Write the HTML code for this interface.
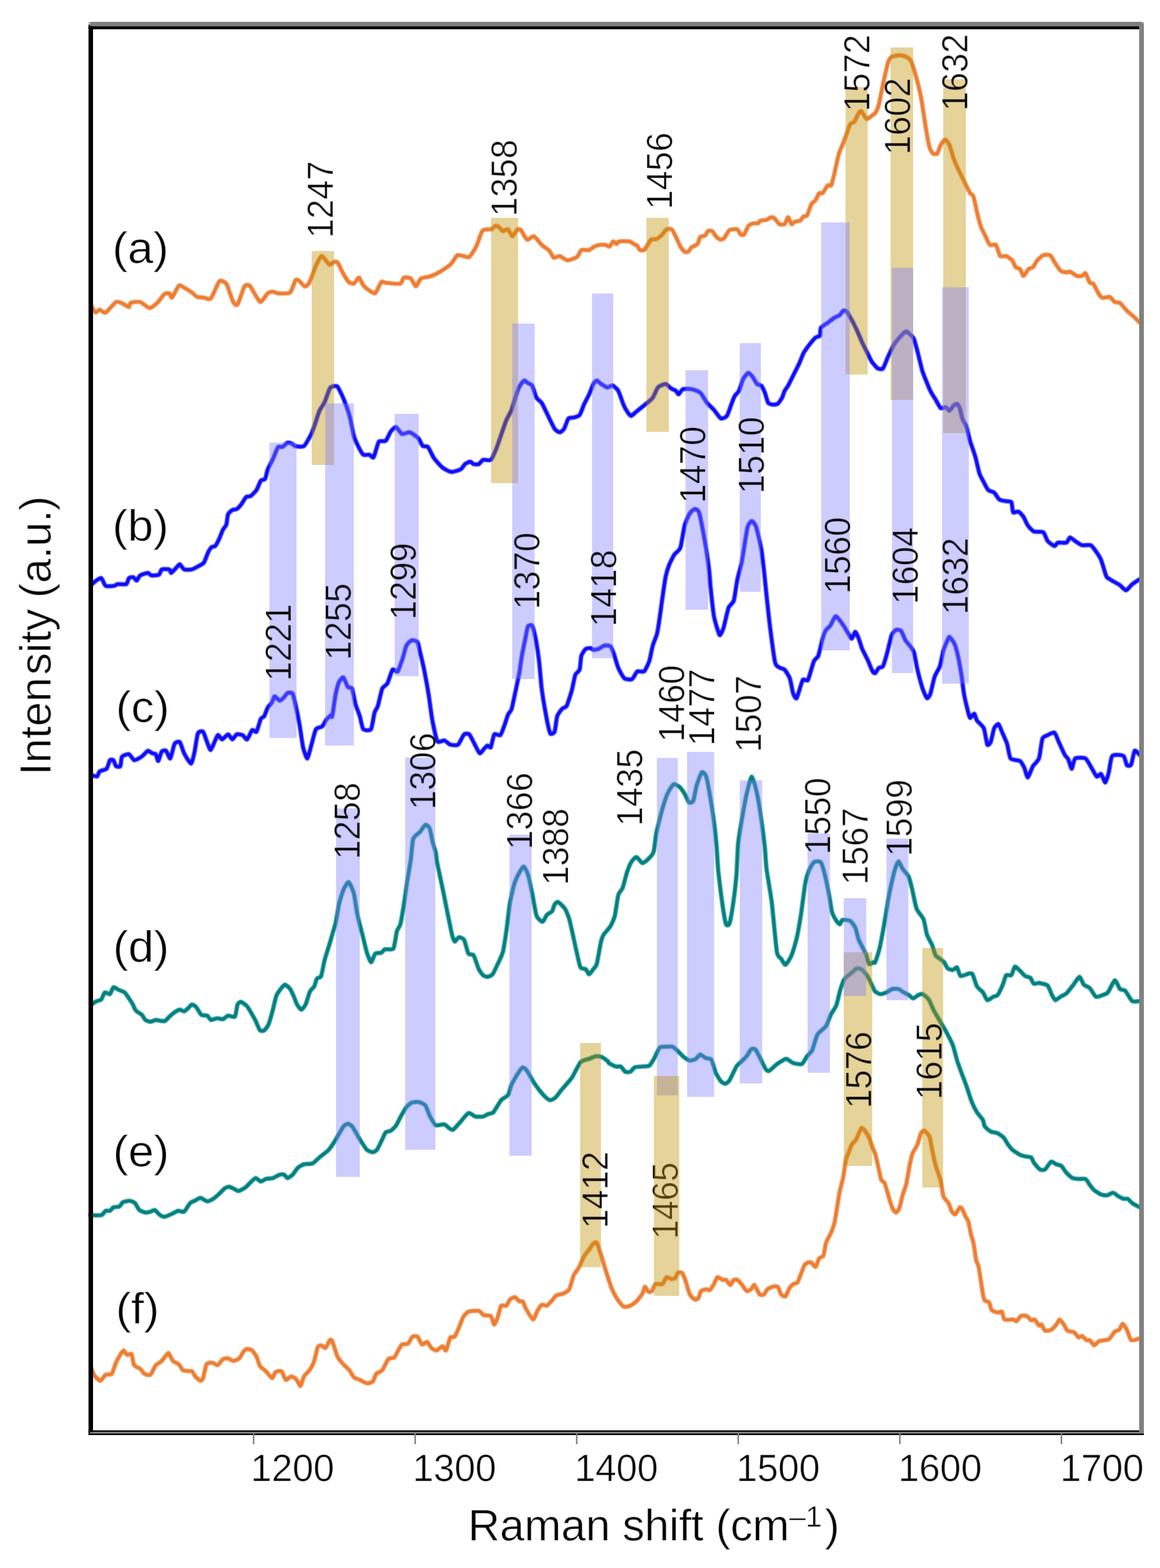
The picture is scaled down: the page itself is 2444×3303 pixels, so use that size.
<!DOCTYPE html>
<html lang="en"><head><meta charset="utf-8"><title>Raman spectra</title>
<style>html,body{margin:0;padding:0;background:#fff}body{width:2444px;height:3303px;overflow:hidden}svg{display:block}text{font-family:"Liberation Sans", Arial, Helvetica, sans-serif;fill:#000;font-kerning:none;text-rendering:geometricPrecision;filter:url(#thin)}</style></head><body>
<svg width="2444" height="3303" viewBox="0 0 2444 3303">
<rect width="2444" height="3303" fill="#ffffff"/>
<defs><filter id="thin" x="-5%" y="-5%" width="110%" height="110%"><feMorphology in="SourceGraphic" operator="erode" radius="1" result="e"/><feComposite in="SourceGraphic" in2="e" operator="arithmetic" k1="0" k2="0.5" k3="0.5" k4="0"/></filter><filter id="soft" filterUnits="userSpaceOnUse" x="0" y="0" width="2444" height="3303"><feGaussianBlur stdDeviation="1.1"/></filter></defs>
<g fill="none" stroke-width="8.7" stroke-linejoin="round" stroke-linecap="butt" filter="url(#soft)">
<path stroke="#ED7D31" d="M190.0 643.30C190.2 643.30 190.7 641.84 191.8 643.30C192.9 644.76 199.0 656.99 200.8 657.90C202.6 658.81 207.7 652.33 209.9 652.40C212.1 652.47 219.2 660.23 222.6 658.60C226.0 656.97 240.8 637.99 244.4 636.10C248.0 634.21 256.3 638.61 259.0 639.70C261.7 640.79 270.1 647.18 271.7 647.00C273.3 646.82 272.9 638.99 275.3 637.90C277.7 636.81 291.3 635.01 295.3 636.10C299.3 637.19 311.7 648.62 315.3 648.80C318.9 648.98 328.5 640.81 331.6 637.90C334.7 634.99 343.6 621.70 346.1 619.70C348.6 617.70 355.4 617.17 357.0 617.90C358.6 618.63 360.5 628.63 362.5 627.00C364.5 625.37 374.3 603.60 377.0 601.60C379.7 599.60 387.0 605.55 389.7 607.00C392.4 608.45 401.7 614.28 404.2 616.10C406.7 617.92 412.6 624.11 415.1 625.20C417.7 626.29 426.8 626.64 429.7 627.00C432.6 627.36 440.9 632.25 444.2 628.80C447.5 625.35 459.0 595.59 462.3 592.50C465.6 589.41 474.0 593.54 476.9 597.90C479.8 602.26 489.0 631.74 491.4 636.10C493.8 640.46 498.1 644.77 500.5 641.50C502.9 638.23 512.5 607.39 515.0 603.40C517.5 599.41 523.4 599.42 525.9 601.60C528.4 603.78 538.0 621.75 540.4 625.20C542.8 628.65 547.1 636.83 549.5 636.10C551.9 635.37 561.5 620.08 564.0 617.90C566.5 615.72 572.7 614.30 574.9 614.30C577.1 614.30 582.2 617.72 585.8 617.90C589.4 618.08 607.7 618.82 611.3 616.10C614.9 613.38 620.4 593.24 622.2 590.70C624.0 588.16 627.4 589.43 629.4 590.70C631.4 591.97 639.9 602.86 642.1 603.40C644.3 603.94 648.8 600.46 651.2 596.10C653.6 591.74 663.2 565.43 665.7 559.80C668.2 554.17 674.8 541.25 676.6 539.80C678.4 538.35 682.1 543.48 683.9 545.30C685.7 547.12 693.0 557.28 694.8 558.00C696.6 558.72 700.5 553.05 702.1 552.50C703.7 551.95 709.1 550.36 711.1 552.50C713.1 554.64 719.5 569.76 721.8 573.90C724.1 578.04 732.1 591.54 734.5 593.90C736.9 596.26 743.2 598.41 745.4 597.50C747.6 596.59 754.3 584.44 756.3 584.80C758.3 585.16 763.2 598.38 765.4 601.10C767.6 603.82 775.6 610.36 778.1 612.00C780.6 613.64 788.3 619.31 790.8 617.50C793.3 615.69 801.3 596.08 803.5 593.90C805.7 591.72 808.6 595.34 812.6 595.70C816.6 596.06 839.7 598.59 843.5 597.50C847.3 596.41 848.5 585.89 850.7 584.80C852.9 583.71 862.8 584.78 865.3 586.60C867.8 588.42 874.0 603.00 876.2 603.00C878.4 603.00 884.3 588.60 887.0 586.60C889.7 584.60 900.3 583.91 903.4 583.00C906.5 582.09 914.6 579.14 917.9 577.50C921.2 575.86 932.8 568.78 936.1 566.60C939.4 564.42 947.9 558.60 950.6 555.70C953.3 552.80 960.8 539.23 963.3 537.60C965.8 535.97 973.5 539.04 976.0 539.40C978.5 539.76 986.0 543.20 988.7 541.20C991.4 539.20 1000.6 524.85 1003.3 519.40C1006.0 513.95 1013.6 490.33 1016.0 486.70C1018.4 483.07 1024.9 483.46 1026.9 483.10C1028.9 482.74 1034.4 483.83 1036.0 483.10C1037.6 482.37 1041.8 476.34 1043.2 475.80C1044.7 475.26 1048.9 476.61 1050.5 477.70C1052.1 478.79 1057.6 486.16 1059.6 486.70C1061.6 487.24 1068.5 482.01 1070.5 483.10C1072.5 484.19 1077.5 497.60 1079.5 497.60C1081.5 497.60 1088.6 484.37 1090.4 483.10C1092.2 481.83 1095.7 482.72 1097.7 484.90C1099.7 487.08 1107.7 503.63 1110.4 504.90C1113.1 506.17 1121.8 496.51 1124.9 497.60C1128.0 498.69 1138.0 512.71 1141.3 515.80C1144.6 518.89 1155.1 525.78 1157.6 528.50C1160.1 531.22 1164.5 541.91 1166.7 543.00C1168.9 544.09 1176.5 538.85 1179.4 539.40C1182.3 539.95 1192.2 548.32 1195.8 548.50C1199.4 548.68 1212.8 543.38 1215.7 541.20C1218.6 539.02 1222.2 528.15 1224.8 526.70C1227.3 525.25 1238.5 527.43 1241.2 526.70C1243.9 525.97 1249.8 520.49 1252.1 519.40C1254.4 518.31 1262.2 516.16 1264.5 515.80C1266.8 515.44 1273.4 515.44 1275.4 515.80C1277.4 516.16 1282.9 520.13 1284.5 519.40C1286.1 518.67 1290.3 509.04 1291.8 508.50C1293.2 507.96 1297.7 514.00 1299.0 514.00C1300.3 514.00 1301.8 509.05 1304.5 508.50C1307.2 507.95 1323.2 507.95 1326.3 508.50C1329.4 509.05 1333.8 513.09 1335.4 514.00C1337.0 514.91 1341.3 516.33 1342.6 517.60C1343.9 518.87 1346.6 525.79 1348.1 526.70C1349.5 527.61 1355.5 527.79 1357.1 526.70C1358.7 525.61 1362.9 517.98 1364.4 515.80C1365.9 513.62 1369.7 506.17 1371.7 504.90C1373.7 503.63 1382.0 504.19 1384.4 503.10C1386.8 502.01 1393.3 496.00 1395.3 494.00C1397.3 492.00 1402.4 484.19 1404.4 483.10C1406.4 482.01 1413.3 481.47 1415.3 483.10C1417.3 484.73 1422.5 495.77 1424.3 499.40C1426.1 503.03 1431.6 516.31 1433.4 519.40C1435.2 522.49 1440.9 529.21 1442.5 530.30C1444.1 531.39 1448.3 531.21 1449.8 530.30C1451.2 529.39 1455.0 522.83 1457.0 521.20C1459.0 519.57 1467.9 516.18 1469.7 514.00C1471.5 511.82 1473.6 501.22 1475.2 499.40C1476.8 497.58 1484.5 497.07 1486.1 495.80C1487.7 494.53 1490.0 487.61 1491.5 486.70C1493.0 485.79 1498.8 485.43 1500.6 486.70C1502.4 487.97 1507.9 497.58 1509.7 499.40C1511.5 501.22 1517.2 504.71 1518.8 504.90C1520.4 505.09 1524.2 503.30 1526.0 501.30C1527.8 499.30 1534.2 486.72 1536.9 484.90C1539.6 483.08 1550.9 482.19 1553.3 483.10C1555.7 484.01 1559.0 492.91 1560.5 494.00C1562.0 495.09 1566.2 495.82 1567.8 494.00C1569.4 492.18 1574.9 478.16 1576.9 475.80C1578.9 473.44 1585.8 470.94 1587.8 470.40C1589.8 469.86 1595.5 470.95 1596.9 470.40C1598.4 469.85 1600.5 465.63 1602.3 464.90C1604.1 464.17 1612.8 463.82 1615.0 463.10C1617.2 462.38 1622.5 458.06 1624.1 457.70C1625.7 457.34 1629.6 458.05 1631.4 459.50C1633.2 460.95 1640.1 470.93 1642.3 472.20C1644.5 473.47 1651.3 473.65 1653.1 472.20C1654.9 470.75 1658.9 457.70 1660.4 457.70C1661.9 457.70 1666.2 471.29 1667.7 472.20C1669.2 473.11 1673.1 467.53 1674.9 466.80C1676.7 466.07 1684.0 465.99 1685.8 464.90C1687.6 463.81 1691.6 456.99 1693.1 455.90C1694.6 454.81 1698.8 456.55 1700.4 454.00C1702.0 451.45 1707.6 433.66 1709.4 430.40C1711.2 427.14 1716.9 423.76 1718.5 421.40C1720.1 419.04 1724.3 408.26 1725.8 406.80C1727.3 405.34 1731.3 408.43 1733.1 406.80C1734.9 405.17 1742.1 392.13 1743.9 390.50C1745.7 388.87 1749.7 393.23 1751.2 390.50C1752.7 387.77 1756.9 369.92 1758.5 363.20C1760.1 356.48 1765.8 329.47 1767.6 323.30C1769.4 317.13 1774.8 306.22 1776.6 301.50C1778.4 296.78 1784.2 280.10 1785.7 276.10C1787.2 272.10 1789.8 263.50 1791.2 261.50C1792.7 259.50 1798.4 258.46 1800.2 256.10C1802.0 253.74 1807.8 240.08 1809.3 237.90C1810.8 235.72 1813.2 233.02 1814.8 234.30C1816.4 235.58 1823.7 249.61 1825.7 250.70C1827.7 251.79 1832.9 246.48 1834.7 245.20C1836.5 243.92 1842.3 240.26 1844.0 237.90C1845.7 235.54 1849.7 227.59 1851.3 221.60C1852.9 215.61 1858.3 187.08 1860.3 178.00C1862.3 168.92 1869.4 136.61 1871.2 130.80C1873.0 124.99 1876.0 121.35 1878.5 119.90C1881.0 118.45 1893.6 116.30 1896.7 116.30C1899.8 116.30 1907.2 118.81 1909.4 119.90C1911.6 120.99 1916.7 123.93 1918.5 127.20C1920.3 130.47 1925.3 144.98 1927.5 152.60C1929.7 160.22 1937.8 191.42 1940.2 203.40C1942.6 215.38 1949.3 261.68 1951.1 272.40C1952.9 283.12 1956.9 305.51 1958.4 310.60C1959.9 315.69 1964.1 322.03 1965.7 323.30C1967.3 324.57 1973.2 325.12 1974.8 323.30C1976.4 321.48 1980.4 308.01 1982.0 305.10C1983.6 302.19 1989.3 294.20 1991.1 294.20C1992.9 294.20 1998.4 301.10 2000.2 305.10C2002.0 309.10 2007.1 328.39 2009.3 334.20C2011.5 340.01 2019.6 358.12 2022.0 363.20C2024.4 368.28 2030.7 380.64 2032.9 385.00C2035.1 389.36 2042.0 403.89 2043.8 406.80C2045.6 409.71 2049.4 409.38 2051.0 414.10C2052.6 418.82 2058.5 447.46 2060.1 454.00C2061.7 460.54 2065.8 475.14 2067.4 479.50C2069.0 483.86 2074.6 493.97 2076.4 497.60C2078.2 501.23 2083.3 513.98 2085.5 515.80C2087.7 517.62 2096.0 513.44 2098.2 515.80C2100.4 518.16 2105.1 537.04 2107.3 539.40C2109.5 541.76 2117.5 538.49 2120.0 539.40C2122.5 540.31 2130.7 546.14 2132.7 548.50C2134.7 550.86 2138.4 561.19 2140.0 563.00C2141.6 564.81 2147.5 564.78 2149.1 566.60C2150.7 568.42 2154.5 581.20 2156.3 581.20C2158.1 581.20 2165.2 568.42 2167.2 566.60C2169.2 564.78 2174.5 564.81 2176.3 563.00C2178.1 561.19 2183.2 551.04 2185.4 548.50C2187.6 545.96 2195.4 538.69 2198.1 537.60C2200.8 536.51 2210.2 536.15 2212.6 537.60C2215.0 539.05 2219.5 548.83 2221.7 552.10C2223.9 555.37 2231.9 568.12 2234.4 570.30C2236.9 572.48 2245.1 573.72 2247.1 573.90C2249.1 574.08 2252.2 571.37 2254.4 572.10C2256.6 572.83 2266.4 580.29 2268.9 581.20C2271.4 582.11 2278.0 581.75 2279.8 581.20C2281.6 580.65 2285.5 574.25 2287.1 575.70C2288.7 577.15 2294.6 593.52 2296.2 595.70C2297.8 597.88 2301.4 594.96 2303.4 597.50C2305.4 600.04 2314.2 618.12 2316.2 621.10C2318.2 624.08 2321.2 626.87 2323.4 627.30C2325.6 627.73 2335.4 624.50 2337.9 625.40C2340.4 626.30 2346.6 635.02 2348.8 636.30C2351.0 637.58 2357.1 636.38 2359.7 638.20C2362.2 640.02 2371.4 651.60 2374.3 654.50C2377.2 657.40 2386.1 664.66 2388.8 667.20C2391.5 669.74 2400.2 678.63 2401.5 679.90C2402.8 681.17 2401.9 679.90 2402.0 679.90"/>
<path stroke="#0A0AFA" d="M190.0 1232.20C190.2 1232.20 190.5 1233.11 191.8 1232.20C193.1 1231.29 200.5 1224.55 202.7 1223.10C204.9 1221.65 211.6 1216.61 213.6 1217.70C215.6 1218.79 219.9 1232.37 222.6 1234.00C225.3 1235.63 238.2 1234.36 240.8 1234.00C243.4 1233.64 245.6 1230.76 248.1 1230.40C250.6 1230.04 263.8 1231.67 266.2 1230.40C268.6 1229.13 270.2 1219.15 271.7 1217.70C273.2 1216.25 279.2 1215.36 280.8 1215.90C282.4 1216.44 286.6 1223.47 288.0 1223.10C289.4 1222.73 292.9 1213.83 295.3 1212.20C297.7 1210.57 309.2 1206.80 311.6 1206.80C314.0 1206.80 316.5 1211.84 318.9 1212.20C321.3 1212.56 333.0 1211.67 335.2 1210.40C337.4 1209.13 338.5 1200.59 340.7 1199.50C342.9 1198.41 355.0 1198.77 357.0 1199.50C359.0 1200.23 359.2 1207.16 360.7 1206.80C362.1 1206.44 369.7 1197.72 371.5 1195.90C373.3 1194.08 377.2 1188.24 378.8 1188.60C380.4 1188.96 385.4 1198.41 387.9 1199.50C390.4 1200.59 401.1 1200.22 404.2 1199.50C407.3 1198.78 416.2 1193.75 418.8 1192.30C421.4 1190.85 427.7 1187.91 429.7 1185.00C431.7 1182.09 437.1 1166.47 438.7 1163.20C440.3 1159.93 444.5 1153.57 446.0 1152.30C447.5 1151.03 451.7 1152.32 453.3 1150.50C454.9 1148.68 460.7 1137.55 462.3 1134.10C463.9 1130.65 468.1 1118.90 469.6 1116.00C471.1 1113.10 475.8 1108.37 476.9 1105.10C478.0 1101.83 479.2 1086.39 480.5 1083.30C481.8 1080.21 487.8 1075.29 489.6 1074.20C491.4 1073.11 496.9 1073.49 498.7 1072.40C500.5 1071.31 505.7 1065.84 507.7 1063.30C509.7 1060.76 516.6 1048.81 518.6 1047.00C520.6 1045.19 525.5 1046.66 527.7 1045.20C529.9 1043.74 538.2 1035.67 540.4 1032.40C542.6 1029.13 547.7 1014.86 549.5 1012.50C551.3 1010.14 557.1 1011.16 558.6 1008.80C560.1 1006.44 562.4 993.07 564.0 988.90C565.6 984.73 572.7 971.83 574.9 967.10C577.1 962.37 583.8 944.15 585.8 941.60C587.8 939.05 592.9 942.50 594.9 941.60C596.9 940.70 603.8 933.32 605.8 932.60C607.8 931.88 613.3 933.68 614.9 934.40C616.5 935.12 619.7 939.26 622.2 939.80C624.7 940.34 637.0 942.16 640.3 939.80C643.6 937.44 652.6 920.37 654.8 916.20C657.0 912.03 660.3 903.18 662.1 898.10C663.9 893.02 670.8 870.49 673.0 865.40C675.2 860.31 681.7 851.92 683.9 847.20C686.1 842.48 693.0 821.54 694.8 818.20C696.6 814.86 700.5 814.17 702.1 813.80C703.7 813.43 708.9 811.88 711.1 814.50C713.3 817.12 721.2 833.82 723.8 840.00C726.3 846.18 734.4 868.52 736.6 876.30C738.8 884.08 743.6 911.47 745.4 917.80C747.2 924.13 752.5 935.60 754.5 939.60C756.5 943.60 763.0 955.98 765.4 957.80C767.8 959.62 775.9 957.26 778.1 957.80C780.3 958.34 785.2 965.93 787.2 963.20C789.2 960.47 795.6 933.95 798.1 930.50C800.6 927.05 810.1 930.88 812.6 928.70C815.1 926.52 821.3 911.60 823.5 908.70C825.7 905.80 832.0 899.15 834.4 899.70C836.8 900.25 844.2 913.11 847.1 914.20C850.0 915.29 859.9 909.69 863.4 910.60C866.9 911.51 878.9 920.40 881.6 923.30C884.3 926.20 888.7 937.79 890.7 939.60C892.7 941.41 899.2 938.86 901.6 941.40C904.0 943.94 911.2 960.64 914.3 965.00C917.4 969.36 928.8 982.09 932.4 985.00C936.0 987.91 946.8 993.74 950.6 994.10C954.4 994.46 967.7 990.24 970.6 988.60C973.5 986.96 977.7 979.33 979.7 977.70C981.7 976.07 988.8 972.30 990.6 972.30C992.4 972.30 996.0 977.16 997.8 977.70C999.6 978.24 1006.7 978.60 1008.7 977.70C1010.7 976.80 1015.3 969.60 1017.8 968.70C1020.3 967.80 1031.4 970.88 1034.1 968.70C1036.8 966.52 1042.6 952.71 1045.0 946.90C1047.4 941.09 1055.5 916.78 1057.7 910.60C1059.9 904.42 1064.8 889.83 1066.8 885.10C1068.8 880.37 1075.3 869.47 1077.7 863.30C1080.1 857.13 1088.4 828.84 1090.4 823.40C1092.4 817.96 1096.2 811.08 1097.7 808.90C1099.2 806.72 1103.5 801.79 1105.0 801.60C1106.5 801.41 1110.6 805.91 1112.2 807.00C1113.8 808.09 1119.5 809.41 1121.3 812.50C1123.1 815.59 1128.4 834.27 1130.4 837.90C1132.4 841.53 1139.1 845.53 1141.3 848.80C1143.5 852.07 1149.5 865.15 1152.2 870.60C1154.9 876.05 1165.8 899.30 1168.5 903.30C1171.2 907.30 1177.4 910.60 1179.4 910.60C1181.4 910.60 1186.7 906.21 1188.5 903.30C1190.3 900.39 1195.6 883.86 1197.6 881.50C1199.6 879.14 1206.1 880.43 1208.5 879.70C1210.9 878.97 1219.0 876.93 1221.2 874.20C1223.4 871.47 1228.3 856.75 1230.3 852.40C1232.3 848.05 1239.2 835.05 1241.2 830.70C1243.2 826.35 1248.6 811.81 1250.2 808.90C1251.8 805.99 1255.9 801.60 1257.5 801.60C1259.1 801.60 1264.4 807.45 1266.6 808.90C1268.8 810.35 1277.1 815.74 1279.3 816.10C1281.5 816.46 1287.2 812.86 1288.4 812.50C1289.7 812.14 1290.4 811.41 1291.8 812.50C1293.2 813.59 1300.5 819.41 1302.7 823.40C1304.9 827.39 1311.6 847.86 1313.6 852.40C1315.6 856.94 1321.0 866.43 1322.6 868.80C1324.2 871.17 1328.1 876.28 1329.9 876.10C1331.7 875.92 1337.9 869.37 1340.8 867.00C1343.7 864.63 1355.5 855.31 1359.0 852.40C1362.5 849.49 1372.6 841.53 1375.3 837.90C1378.0 834.27 1383.5 819.00 1386.2 816.10C1388.9 813.20 1399.8 808.72 1402.5 808.90C1405.2 809.08 1411.2 816.45 1413.4 817.90C1415.6 819.35 1422.7 822.12 1424.3 823.40C1425.9 824.68 1428.3 831.06 1429.8 830.70C1431.3 830.34 1436.2 820.89 1438.9 819.80C1441.6 818.71 1453.4 819.08 1457.0 819.80C1460.6 820.52 1471.9 824.10 1475.2 827.00C1478.5 829.90 1486.8 845.17 1489.7 848.80C1492.6 852.43 1501.3 860.03 1504.2 863.30C1507.1 866.57 1516.1 880.22 1518.8 881.50C1521.5 882.78 1529.3 879.01 1531.5 876.10C1533.7 873.19 1539.0 856.58 1540.6 852.40C1542.2 848.22 1546.2 837.20 1547.8 834.30C1549.4 831.40 1555.1 827.03 1556.9 823.40C1558.7 819.77 1564.0 801.81 1566.0 798.00C1568.0 794.19 1574.9 785.67 1576.9 785.30C1578.9 784.93 1584.2 791.94 1586.0 794.30C1587.8 796.66 1593.2 807.08 1595.0 808.90C1596.8 810.72 1602.5 810.69 1604.1 812.50C1605.7 814.31 1610.0 823.37 1611.4 827.00C1612.9 830.63 1616.8 846.26 1618.6 848.80C1620.4 851.34 1627.5 852.22 1629.5 852.40C1631.5 852.58 1636.8 852.05 1638.6 850.60C1640.4 849.15 1646.2 840.62 1647.7 837.90C1649.2 835.18 1651.8 825.94 1653.1 823.40C1654.4 820.86 1658.6 815.77 1660.4 812.50C1662.2 809.23 1668.9 795.42 1671.3 790.70C1673.7 785.98 1681.8 770.02 1684.0 765.30C1686.2 760.58 1690.9 747.50 1693.1 743.50C1695.3 739.50 1703.3 728.57 1705.8 725.30C1708.3 722.03 1716.3 712.61 1718.5 710.80C1720.7 708.99 1726.5 709.20 1727.6 707.20C1728.7 705.20 1727.8 693.53 1729.4 690.80C1731.0 688.07 1741.0 682.08 1743.9 679.90C1746.8 677.72 1756.0 670.63 1758.5 669.00C1761.0 667.37 1767.6 665.05 1769.4 663.60C1771.2 662.15 1775.1 655.23 1776.6 654.50C1778.0 653.77 1782.1 654.30 1783.9 656.30C1785.7 658.30 1792.6 670.50 1794.8 674.50C1797.0 678.50 1803.5 691.58 1805.7 696.30C1807.9 701.02 1814.4 716.98 1816.6 721.70C1818.8 726.42 1825.5 739.51 1827.5 743.50C1829.5 747.49 1834.9 758.88 1836.6 761.60C1838.2 764.32 1842.7 769.24 1844.0 770.70C1845.3 772.16 1847.8 775.65 1849.4 776.20C1851.0 776.75 1858.1 778.74 1860.3 776.20C1862.5 773.66 1868.8 755.89 1871.2 750.80C1873.6 745.71 1881.3 729.66 1884.0 725.30C1886.7 720.94 1896.0 709.92 1898.5 707.20C1901.0 704.48 1907.4 698.28 1909.4 698.10C1911.4 697.92 1916.9 703.77 1918.5 705.40C1920.1 707.03 1924.1 710.23 1925.7 714.40C1927.3 718.57 1933.0 740.20 1934.8 747.10C1936.6 754.00 1941.4 775.77 1943.9 783.40C1946.4 791.03 1957.5 817.59 1960.2 823.40C1962.9 829.21 1968.9 837.87 1971.1 841.50C1973.3 845.13 1979.8 858.06 1982.0 859.70C1984.2 861.34 1991.1 857.35 1992.9 857.90C1994.7 858.45 1998.6 865.56 2000.2 865.20C2001.8 864.84 2007.7 855.76 2009.3 854.30C2010.9 852.84 2015.2 850.06 2016.5 850.60C2017.8 851.14 2020.9 856.61 2022.0 859.70C2023.1 862.79 2026.0 877.50 2027.4 881.50C2028.9 885.50 2034.9 894.98 2036.5 899.70C2038.1 904.42 2042.0 922.53 2043.8 928.70C2045.6 934.87 2052.7 954.50 2054.7 961.40C2056.7 968.30 2061.9 992.25 2063.7 997.70C2065.5 1003.15 2071.0 1012.45 2072.8 1015.90C2074.6 1019.35 2079.7 1030.02 2081.9 1032.20C2084.1 1034.38 2092.2 1035.70 2094.6 1037.70C2097.0 1039.70 2103.0 1050.39 2105.5 1052.20C2108.0 1054.01 2117.5 1055.25 2120.0 1055.80C2122.5 1056.35 2129.4 1055.34 2130.9 1057.70C2132.4 1060.06 2133.1 1077.41 2134.6 1079.40C2136.1 1081.39 2143.3 1076.69 2145.5 1077.60C2147.7 1078.51 2154.3 1085.59 2156.3 1088.50C2158.3 1091.41 2163.2 1103.61 2165.4 1106.70C2167.6 1109.79 2174.8 1117.95 2178.1 1119.40C2181.4 1120.85 2195.2 1119.20 2198.1 1121.20C2201.0 1123.20 2204.8 1136.49 2207.2 1139.40C2209.6 1142.31 2219.5 1149.94 2221.7 1150.30C2223.9 1150.66 2226.5 1143.73 2229.0 1143.00C2231.5 1142.27 2244.6 1144.09 2247.1 1143.00C2249.6 1141.91 2252.4 1132.28 2254.4 1132.10C2256.4 1131.92 2264.6 1139.56 2267.1 1141.20C2269.6 1142.84 2276.7 1147.77 2279.8 1148.50C2282.9 1149.23 2295.1 1147.23 2298.0 1148.50C2300.9 1149.77 2306.7 1158.12 2308.9 1161.20C2311.1 1164.28 2317.8 1174.58 2319.8 1179.30C2321.8 1184.02 2327.6 1204.70 2328.9 1208.40C2330.2 1212.10 2330.7 1214.60 2332.5 1216.30C2334.3 1218.00 2344.3 1223.76 2347.0 1225.40C2349.7 1227.04 2357.1 1230.88 2359.7 1232.70C2362.2 1234.52 2369.9 1243.78 2372.5 1243.60C2375.1 1243.42 2382.3 1233.26 2385.2 1230.90C2388.1 1228.54 2399.8 1221.09 2401.5 1220.00C2403.2 1218.91 2401.9 1220.00 2402.0 1220.00"/>
<path stroke="#0A0AFA" d="M190.0 1632.20C190.2 1632.20 190.4 1631.84 191.8 1632.20C193.2 1632.56 202.7 1636.53 204.5 1635.80C206.3 1635.07 207.9 1626.53 209.9 1624.90C211.9 1623.27 222.3 1621.86 224.5 1619.50C226.7 1617.14 230.2 1603.12 231.7 1601.30C233.1 1599.48 237.7 1600.03 239.0 1601.30C240.3 1602.57 243.0 1612.73 244.4 1614.00C245.8 1615.27 252.2 1615.99 253.5 1614.00C254.8 1612.01 255.3 1596.64 257.1 1594.10C258.9 1591.56 269.1 1587.88 271.7 1588.60C274.2 1589.32 280.2 1600.57 282.6 1601.30C285.0 1602.03 293.3 1596.99 295.3 1595.90C297.3 1594.81 300.9 1591.85 302.5 1590.40C304.1 1588.95 309.8 1581.76 311.6 1581.40C313.4 1581.04 319.1 1586.08 320.7 1586.80C322.3 1587.52 326.7 1586.97 328.0 1588.60C329.3 1590.23 332.1 1603.64 333.4 1603.10C334.7 1602.56 339.1 1585.37 340.7 1583.20C342.3 1581.03 348.0 1579.95 349.8 1581.40C351.6 1582.85 357.0 1599.16 358.8 1597.70C360.6 1596.24 365.9 1570.25 367.9 1566.80C369.9 1563.35 376.8 1561.20 378.8 1563.20C380.8 1565.20 385.5 1582.26 387.9 1586.80C390.3 1591.34 400.2 1608.78 402.4 1608.60C404.6 1608.42 408.2 1591.36 409.7 1585.00C411.1 1578.64 415.1 1549.36 416.9 1545.00C418.7 1540.64 425.8 1539.40 427.8 1541.40C429.8 1543.40 435.3 1561.19 436.9 1565.00C438.5 1568.81 442.0 1581.13 444.2 1579.50C446.4 1577.87 456.3 1550.88 458.7 1548.70C461.1 1546.52 465.6 1557.88 467.8 1557.70C470.0 1557.52 478.3 1546.90 480.5 1546.90C482.7 1546.90 487.8 1557.70 489.6 1557.70C491.4 1557.70 496.5 1547.80 498.7 1546.90C500.9 1546.00 509.2 1547.62 511.4 1548.70C513.6 1549.78 518.5 1558.79 520.5 1557.70C522.5 1556.61 529.4 1539.43 531.4 1537.80C533.4 1536.17 538.6 1543.76 540.4 1541.40C542.2 1539.04 547.9 1517.47 549.5 1514.20C551.1 1510.93 555.3 1511.06 556.8 1508.70C558.2 1506.34 562.4 1493.50 564.0 1490.60C565.6 1487.70 571.6 1482.07 573.1 1479.70C574.6 1477.33 577.0 1467.27 578.6 1466.90C580.2 1466.53 587.5 1475.81 589.5 1476.00C591.5 1476.19 596.9 1470.43 598.5 1468.80C600.1 1467.17 604.0 1460.43 605.8 1459.70C607.6 1458.97 614.9 1458.41 616.7 1461.50C618.5 1464.59 622.5 1484.06 624.0 1490.60C625.5 1497.14 629.8 1518.55 631.2 1526.90C632.7 1535.25 636.9 1567.02 638.5 1574.10C640.1 1581.18 645.8 1598.43 647.6 1597.70C649.4 1596.97 654.9 1572.97 656.7 1566.80C658.5 1560.63 663.5 1539.63 665.7 1536.00C667.9 1532.37 676.3 1532.50 678.5 1530.50C680.7 1528.50 685.7 1518.36 687.5 1516.00C689.3 1513.64 695.4 1507.63 696.6 1506.90C697.9 1506.17 698.9 1513.24 700.0 1508.70C701.1 1504.16 705.8 1468.76 707.3 1461.50C708.8 1454.24 712.9 1439.55 714.5 1436.10C716.1 1432.65 721.8 1425.91 723.6 1427.00C725.4 1428.09 730.9 1444.64 732.7 1447.00C734.5 1449.36 740.2 1446.97 741.8 1450.60C743.4 1454.23 747.4 1477.49 749.0 1483.30C750.6 1489.11 756.5 1503.43 758.1 1508.70C759.7 1513.97 763.0 1533.27 765.4 1536.00C767.8 1538.73 779.3 1539.45 781.7 1536.00C784.1 1532.55 787.5 1506.41 789.0 1501.50C790.5 1496.59 794.6 1491.99 796.2 1486.90C797.8 1481.81 803.3 1455.32 805.3 1450.60C807.3 1445.88 814.0 1443.69 816.2 1439.70C818.4 1435.71 824.9 1413.24 827.1 1410.70C829.3 1408.16 835.8 1416.85 838.0 1414.30C840.2 1411.75 847.1 1390.65 848.9 1385.20C850.7 1379.75 854.4 1363.43 856.2 1359.80C858.0 1356.17 864.7 1349.63 867.1 1348.90C869.5 1348.17 878.0 1349.96 879.8 1352.50C881.6 1355.04 883.8 1368.12 885.2 1374.30C886.7 1380.48 892.5 1405.22 894.3 1414.30C896.1 1423.38 901.8 1454.93 903.4 1465.10C905.0 1475.27 908.9 1506.37 910.7 1516.00C912.5 1525.63 919.0 1557.04 921.5 1561.40C924.0 1565.76 933.4 1558.88 936.1 1559.60C938.8 1560.32 945.9 1567.70 948.8 1568.60C951.7 1569.50 962.2 1570.77 965.1 1568.60C968.0 1566.43 975.4 1549.07 977.8 1546.90C980.2 1544.73 986.5 1544.91 988.7 1546.90C990.9 1548.89 997.4 1562.81 999.6 1566.80C1001.8 1570.79 1008.5 1585.71 1010.5 1586.80C1012.5 1587.89 1018.0 1579.33 1019.6 1577.70C1021.2 1576.07 1025.5 1570.86 1026.9 1570.50C1028.4 1570.14 1032.6 1576.46 1034.1 1574.10C1035.5 1571.74 1039.4 1549.44 1041.4 1546.90C1043.4 1544.36 1051.9 1550.70 1054.1 1548.70C1056.3 1546.70 1061.6 1531.26 1063.2 1526.90C1064.8 1522.54 1069.0 1508.37 1070.5 1505.10C1072.0 1501.83 1076.2 1498.56 1077.7 1494.20C1079.2 1489.84 1083.4 1469.13 1085.0 1461.50C1086.6 1453.87 1092.6 1425.89 1094.1 1417.90C1095.5 1409.91 1098.2 1388.86 1099.5 1381.60C1100.8 1374.34 1105.5 1351.47 1106.8 1345.30C1108.1 1339.13 1110.8 1322.63 1112.2 1319.90C1113.7 1317.17 1119.7 1315.46 1121.3 1318.00C1122.9 1320.54 1127.1 1337.85 1128.6 1345.30C1130.0 1352.75 1134.5 1381.97 1135.8 1392.50C1137.1 1403.03 1139.7 1438.25 1141.3 1450.60C1142.9 1462.95 1150.4 1506.56 1152.2 1516.00C1154.0 1525.44 1157.8 1542.46 1159.4 1545.00C1161.0 1547.54 1167.0 1545.03 1168.5 1541.40C1170.0 1537.77 1172.4 1513.60 1174.0 1508.70C1175.6 1503.80 1182.9 1494.58 1184.9 1492.40C1186.9 1490.22 1191.9 1490.72 1193.9 1486.90C1195.9 1483.08 1203.0 1460.74 1204.8 1454.20C1206.6 1447.66 1210.5 1425.85 1212.1 1421.50C1213.7 1417.15 1219.9 1414.69 1221.2 1410.70C1222.5 1406.71 1223.5 1385.96 1224.8 1381.60C1226.1 1377.24 1231.9 1368.73 1233.9 1367.10C1235.9 1365.47 1243.2 1365.12 1244.8 1365.30C1246.4 1365.48 1248.4 1368.72 1250.0 1368.90C1251.6 1369.08 1258.5 1368.01 1260.9 1367.10C1263.3 1366.19 1271.1 1360.35 1273.6 1359.80C1276.1 1359.25 1284.3 1359.78 1286.3 1361.60C1288.3 1363.42 1292.0 1373.46 1293.6 1378.00C1295.2 1382.54 1300.5 1401.92 1302.7 1407.00C1304.9 1412.08 1312.5 1426.44 1315.4 1428.80C1318.3 1431.16 1329.0 1432.05 1331.7 1430.60C1334.4 1429.15 1340.1 1415.93 1342.6 1414.30C1345.1 1412.67 1354.6 1416.48 1357.1 1414.30C1359.6 1412.12 1366.2 1397.95 1368.0 1392.50C1369.8 1387.05 1373.7 1365.61 1375.3 1359.80C1376.9 1353.99 1383.0 1340.21 1384.4 1334.40C1385.9 1328.59 1388.7 1308.97 1389.8 1301.70C1390.9 1294.43 1394.0 1270.42 1395.3 1261.70C1396.6 1252.98 1401.0 1221.65 1402.5 1214.50C1404.0 1207.35 1408.0 1194.81 1409.8 1190.20C1411.6 1185.59 1418.3 1172.03 1420.7 1168.40C1423.1 1164.77 1431.2 1160.07 1433.4 1153.90C1435.6 1147.73 1440.5 1113.96 1442.5 1106.70C1444.5 1099.44 1451.2 1084.75 1453.4 1081.30C1455.6 1077.85 1462.3 1072.20 1464.3 1072.20C1466.3 1072.20 1471.2 1073.86 1473.4 1081.30C1475.6 1088.74 1484.0 1134.62 1486.1 1146.60C1488.2 1158.58 1493.0 1192.13 1494.1 1201.10C1495.2 1210.07 1496.0 1226.60 1497.0 1236.30C1498.0 1246.00 1502.6 1288.65 1504.2 1298.10C1505.8 1307.55 1512.0 1326.81 1513.3 1330.80C1514.6 1334.79 1515.8 1338.73 1516.9 1338.00C1518.0 1337.27 1522.4 1329.31 1524.2 1323.50C1526.0 1317.69 1532.9 1285.71 1535.1 1279.90C1537.3 1274.09 1544.2 1271.21 1546.0 1265.40C1547.8 1259.59 1551.7 1229.68 1553.3 1221.80C1554.9 1213.92 1561.0 1192.30 1562.3 1186.60C1563.6 1180.90 1564.7 1172.43 1566.0 1164.80C1567.3 1157.17 1573.3 1117.02 1575.1 1110.30C1576.9 1103.58 1582.3 1097.60 1584.1 1097.60C1585.9 1097.60 1591.2 1104.31 1593.2 1110.30C1595.2 1116.29 1602.5 1148.42 1604.1 1157.50C1605.7 1166.58 1608.5 1191.40 1609.6 1201.10C1610.7 1210.80 1613.7 1242.62 1615.0 1254.50C1616.3 1266.38 1620.5 1305.74 1622.3 1319.90C1624.1 1334.06 1631.0 1387.39 1633.2 1396.10C1635.4 1404.81 1642.1 1405.54 1644.1 1407.00C1646.1 1408.46 1651.1 1408.52 1653.1 1410.70C1655.1 1412.88 1662.2 1423.72 1664.0 1428.80C1665.8 1433.88 1669.8 1457.32 1671.3 1461.50C1672.8 1465.68 1676.6 1473.51 1678.6 1470.60C1680.6 1467.69 1688.9 1436.22 1691.3 1432.40C1693.7 1428.58 1699.8 1436.39 1702.2 1432.40C1704.6 1428.41 1712.7 1397.58 1714.9 1392.50C1717.1 1387.42 1722.2 1386.32 1724.0 1381.60C1725.8 1376.88 1731.5 1350.75 1733.1 1345.30C1734.7 1339.85 1738.7 1329.83 1740.3 1327.10C1741.9 1324.37 1747.4 1320.90 1749.4 1318.00C1751.4 1315.10 1758.3 1299.19 1760.3 1298.10C1762.3 1297.01 1767.6 1304.92 1769.4 1307.10C1771.2 1309.28 1776.5 1316.81 1778.5 1319.90C1780.5 1322.99 1787.7 1335.46 1789.3 1338.00C1790.9 1340.54 1793.5 1346.02 1794.8 1345.30C1796.1 1344.58 1800.6 1330.80 1802.1 1330.80C1803.5 1330.80 1807.8 1341.67 1809.3 1345.30C1810.8 1348.93 1814.8 1362.74 1816.6 1367.10C1818.4 1371.46 1825.3 1384.18 1827.5 1388.90C1829.7 1393.62 1836.8 1411.40 1838.4 1414.30C1840.1 1417.20 1842.7 1418.63 1844.0 1417.90C1845.3 1417.17 1849.7 1408.45 1851.3 1407.00C1852.9 1405.55 1858.5 1406.67 1860.3 1403.40C1862.1 1400.13 1867.6 1380.84 1869.4 1374.30C1871.2 1367.76 1876.7 1342.72 1878.5 1338.00C1880.3 1333.28 1885.6 1328.01 1887.6 1327.10C1889.6 1326.19 1896.5 1326.72 1898.5 1328.90C1900.5 1331.08 1905.8 1345.81 1907.6 1348.90C1909.4 1351.99 1914.8 1357.26 1916.6 1359.80C1918.4 1362.34 1924.1 1369.21 1925.7 1374.30C1927.3 1379.39 1931.2 1403.07 1933.0 1410.70C1934.8 1418.33 1941.9 1444.61 1943.9 1450.60C1945.9 1456.59 1951.4 1469.51 1953.0 1470.60C1954.6 1471.69 1958.6 1466.04 1960.2 1461.50C1961.8 1456.96 1967.3 1431.01 1969.3 1425.20C1971.3 1419.39 1978.4 1408.85 1980.2 1403.40C1982.0 1397.95 1986.0 1375.79 1987.5 1370.70C1989.0 1365.61 1993.4 1355.41 1994.7 1352.50C1996.0 1349.59 1998.6 1341.23 2000.2 1341.60C2001.8 1341.97 2009.3 1352.20 2011.1 1356.20C2012.9 1360.20 2016.8 1375.07 2018.3 1381.60C2019.8 1388.13 2024.3 1413.51 2025.6 1421.50C2026.9 1429.49 2029.7 1454.23 2031.0 1461.50C2032.3 1468.77 2037.0 1489.12 2038.3 1494.20C2039.6 1499.28 2042.3 1511.39 2043.8 1512.30C2045.2 1513.21 2051.4 1502.75 2052.8 1503.30C2054.2 1503.85 2056.3 1514.72 2058.3 1517.80C2060.3 1520.88 2070.6 1529.02 2072.8 1534.10C2075.0 1539.18 2078.7 1565.69 2080.1 1568.60C2081.5 1571.51 2085.9 1566.65 2087.3 1563.20C2088.8 1559.75 2093.0 1537.91 2094.6 1534.10C2096.2 1530.29 2102.1 1524.37 2103.7 1525.10C2105.3 1525.83 2109.1 1537.23 2110.9 1541.40C2112.7 1545.57 2120.0 1561.17 2121.8 1566.80C2123.6 1572.43 2126.4 1594.07 2129.1 1597.70C2131.8 1601.33 2146.2 1601.10 2149.1 1603.10C2152.0 1605.10 2156.6 1614.24 2158.2 1617.70C2159.8 1621.16 2163.6 1638.07 2165.4 1637.70C2167.2 1637.33 2173.9 1618.00 2176.3 1614.00C2178.7 1610.00 2187.0 1603.51 2189.0 1597.70C2191.0 1591.89 2194.5 1560.80 2196.3 1555.90C2198.1 1551.00 2204.7 1549.97 2207.2 1548.70C2209.7 1547.43 2219.3 1541.75 2221.7 1543.20C2224.1 1544.65 2228.6 1558.48 2230.8 1563.20C2233.0 1567.92 2241.5 1586.77 2243.5 1590.40C2245.5 1594.03 2249.4 1596.59 2250.8 1599.50C2252.2 1602.41 2256.6 1619.68 2258.0 1619.50C2259.4 1619.32 2262.4 1599.88 2265.3 1597.70C2268.2 1595.52 2283.7 1595.70 2287.1 1597.70C2290.5 1599.70 2297.4 1613.89 2299.8 1617.70C2302.2 1621.51 2308.7 1634.53 2310.7 1635.80C2312.7 1637.07 2318.0 1629.13 2319.8 1630.40C2321.6 1631.67 2327.3 1648.86 2328.9 1648.50C2330.5 1648.14 2334.7 1632.42 2336.1 1626.80C2337.5 1621.18 2340.3 1595.75 2343.4 1592.30C2346.5 1588.85 2363.9 1590.31 2367.0 1592.30C2370.1 1594.29 2372.7 1610.39 2374.3 1612.20C2375.9 1614.01 2381.7 1613.48 2383.3 1610.40C2384.9 1607.32 2388.8 1583.40 2390.6 1581.40C2392.4 1579.40 2400.4 1589.50 2401.5 1590.40C2402.6 1591.30 2401.9 1590.40 2402.0 1590.40"/>
<path stroke="#008080" d="M190.0 2116.00C190.2 2116.00 190.4 2116.73 191.8 2116.00C193.2 2115.27 202.3 2109.79 204.5 2108.70C206.7 2107.61 212.0 2106.92 213.6 2105.10C215.2 2103.28 219.0 2091.59 220.8 2090.50C222.6 2089.41 229.9 2095.29 231.7 2094.20C233.5 2093.11 237.2 2080.51 239.0 2079.60C240.8 2078.69 247.5 2084.01 249.9 2085.10C252.3 2086.19 260.4 2088.69 262.6 2090.50C264.8 2092.31 270.1 2100.84 271.7 2103.20C273.3 2105.56 277.4 2111.55 278.9 2114.10C280.3 2116.65 284.2 2126.34 286.2 2128.70C288.2 2131.06 296.9 2135.71 298.9 2137.70C300.9 2139.69 304.4 2147.14 306.2 2148.60C308.0 2150.06 314.9 2152.30 317.1 2152.30C319.3 2152.30 325.8 2148.78 328.0 2148.60C330.2 2148.42 336.9 2150.31 338.9 2150.50C340.9 2150.69 346.1 2151.41 347.9 2150.50C349.7 2149.59 355.0 2143.22 357.0 2141.40C359.0 2139.58 365.7 2133.75 367.9 2132.30C370.1 2130.85 376.8 2127.08 378.8 2126.90C380.8 2126.72 386.1 2130.87 387.9 2130.50C389.7 2130.13 395.4 2124.65 397.0 2123.20C398.6 2121.75 402.6 2116.18 404.2 2116.00C405.8 2115.82 411.3 2119.23 413.3 2121.40C415.3 2123.57 421.8 2135.88 424.2 2137.70C426.6 2139.52 434.9 2138.51 436.9 2139.60C438.9 2140.69 442.2 2148.06 444.2 2148.60C446.2 2149.14 454.4 2145.18 456.9 2145.00C459.4 2144.82 467.2 2147.34 469.6 2146.80C472.0 2146.26 478.0 2140.14 480.5 2139.60C483.0 2139.06 493.0 2143.76 495.0 2141.40C497.0 2139.04 499.2 2119.09 500.5 2116.00C501.8 2112.91 505.7 2110.14 507.7 2110.50C509.7 2110.86 518.3 2117.24 520.5 2119.60C522.7 2121.96 527.7 2131.01 529.5 2134.10C531.3 2137.19 536.8 2146.87 538.6 2150.50C540.4 2154.13 545.9 2168.41 547.7 2170.40C549.5 2172.39 555.0 2171.67 556.8 2170.40C558.6 2169.13 564.1 2162.05 565.9 2157.70C567.7 2153.35 573.3 2132.89 574.9 2126.90C576.5 2120.91 580.6 2102.16 582.2 2097.80C583.8 2093.44 589.5 2085.66 591.3 2083.30C593.1 2080.94 598.4 2074.20 600.4 2074.20C602.4 2074.20 609.5 2080.94 611.3 2083.30C613.1 2085.66 617.0 2094.53 618.5 2097.80C620.0 2101.07 624.2 2113.09 625.8 2116.00C627.4 2118.91 633.1 2126.90 634.9 2126.90C636.7 2126.90 642.1 2119.82 643.9 2116.00C645.7 2112.18 651.2 2092.52 653.0 2088.70C654.8 2084.88 660.6 2080.52 662.1 2077.80C663.6 2075.08 666.1 2063.68 667.6 2061.50C669.1 2059.32 675.0 2059.89 676.6 2056.00C678.2 2052.11 682.1 2029.50 683.9 2022.60C685.7 2015.70 693.2 1992.37 694.8 1987.00C696.4 1981.63 698.8 1973.26 700.0 1968.90C701.2 1964.54 705.8 1949.94 707.3 1943.40C708.8 1936.86 712.9 1910.40 714.5 1903.50C716.1 1896.60 721.6 1878.94 723.6 1874.40C725.6 1869.86 732.3 1857.37 734.5 1858.10C736.7 1858.83 743.6 1874.98 745.4 1881.70C747.2 1888.42 750.9 1916.58 752.7 1925.30C754.5 1934.02 761.6 1960.91 763.6 1968.90C765.6 1976.89 770.8 1999.39 772.6 2005.20C774.4 2011.01 779.9 2026.64 781.7 2027.00C783.5 2027.36 788.6 2010.80 790.8 2008.80C793.0 2006.80 801.5 2007.91 803.5 2007.00C805.5 2006.09 808.3 2000.61 810.8 1999.70C813.3 1998.79 826.4 2001.71 828.9 1997.90C831.4 1994.09 834.7 1966.68 836.2 1961.60C837.7 1956.52 842.0 1952.55 843.5 1947.10C845.0 1941.65 849.2 1916.18 850.7 1907.10C852.2 1898.02 856.5 1865.74 858.0 1856.30C859.5 1846.86 864.0 1821.67 865.3 1812.70C866.6 1803.73 868.7 1772.66 870.7 1766.60C872.7 1760.54 882.7 1755.01 885.2 1752.10C887.7 1749.19 894.1 1738.23 896.1 1737.50C898.1 1736.77 903.6 1740.80 905.2 1744.80C906.8 1748.80 911.2 1772.53 912.5 1777.50C913.8 1782.47 917.0 1790.25 917.9 1794.50C918.8 1798.75 920.0 1812.37 921.5 1820.00C923.0 1827.63 930.2 1860.27 932.4 1870.80C934.6 1881.33 941.3 1915.49 943.3 1925.30C945.3 1935.11 950.9 1963.09 952.4 1968.90C953.9 1974.71 956.4 1982.86 957.9 1983.40C959.4 1983.94 964.9 1974.66 966.9 1974.30C968.9 1973.94 975.8 1976.35 977.8 1979.80C979.8 1983.25 984.9 2005.54 986.9 2008.80C988.9 2012.06 995.6 2009.13 997.8 2012.40C1000.0 2015.67 1006.7 2037.32 1008.7 2041.50C1010.7 2045.68 1016.0 2052.57 1017.8 2054.20C1019.6 2055.83 1024.9 2057.98 1026.9 2057.80C1028.9 2057.62 1035.6 2055.12 1037.8 2052.40C1040.0 2049.68 1046.5 2035.32 1048.7 2030.60C1050.9 2025.88 1057.8 2012.10 1059.6 2005.20C1061.4 1998.30 1065.3 1971.77 1066.8 1961.60C1068.2 1951.43 1072.5 1913.31 1074.1 1903.50C1075.7 1893.69 1081.4 1869.68 1083.2 1863.50C1085.0 1857.32 1090.3 1845.51 1092.3 1841.70C1094.3 1837.89 1101.1 1825.40 1103.1 1825.40C1105.1 1825.40 1110.4 1836.07 1112.2 1841.70C1114.0 1847.33 1119.5 1872.98 1121.3 1881.70C1123.1 1890.42 1128.2 1922.91 1130.4 1928.90C1132.6 1934.89 1140.9 1941.78 1143.1 1941.60C1145.3 1941.42 1150.2 1929.28 1152.2 1927.10C1154.2 1924.92 1161.5 1921.98 1163.1 1919.80C1164.7 1917.62 1167.2 1907.29 1168.5 1905.30C1169.8 1903.31 1173.6 1898.99 1175.8 1899.90C1178.0 1900.81 1187.9 1910.77 1190.3 1914.40C1192.7 1918.03 1197.6 1930.03 1199.4 1936.20C1201.2 1942.37 1206.9 1968.84 1208.5 1976.10C1210.1 1983.36 1214.2 2002.62 1215.7 2008.80C1217.2 2014.98 1221.2 2034.63 1223.0 2037.90C1224.8 2041.17 1232.1 2040.05 1233.9 2041.50C1235.7 2042.95 1239.6 2052.40 1241.2 2052.40C1242.8 2052.40 1248.4 2043.68 1250.0 2041.50C1251.6 2039.32 1255.7 2036.41 1257.3 2030.60C1258.9 2024.79 1264.8 1989.57 1266.3 1983.40C1267.8 1977.23 1269.8 1972.17 1271.8 1968.90C1273.8 1965.63 1283.9 1954.70 1286.3 1950.70C1288.7 1946.70 1293.8 1935.44 1295.4 1928.90C1297.0 1922.36 1301.1 1891.11 1302.7 1885.30C1304.3 1879.49 1309.9 1875.52 1311.7 1870.80C1313.5 1866.08 1319.0 1843.55 1320.8 1838.10C1322.6 1832.65 1327.9 1819.57 1329.9 1816.30C1331.9 1813.03 1338.4 1805.22 1340.8 1805.40C1343.2 1805.58 1351.0 1817.73 1353.5 1818.10C1356.0 1818.47 1363.8 1811.46 1366.2 1809.10C1368.6 1806.74 1375.5 1799.84 1377.1 1794.50C1378.7 1789.16 1380.8 1764.67 1382.6 1755.70C1384.4 1746.73 1392.9 1713.15 1395.3 1704.80C1397.7 1696.45 1403.8 1677.46 1406.2 1672.20C1408.6 1666.94 1416.4 1653.66 1418.9 1652.20C1421.4 1650.74 1429.2 1655.60 1431.6 1657.60C1434.0 1659.60 1440.5 1668.93 1442.5 1672.20C1444.5 1675.47 1449.8 1688.85 1451.6 1690.30C1453.4 1691.75 1459.1 1690.33 1460.7 1686.70C1462.3 1683.07 1466.1 1659.99 1467.9 1654.00C1469.7 1648.01 1476.8 1628.62 1478.8 1626.80C1480.8 1624.98 1486.1 1630.17 1487.9 1635.80C1489.7 1641.43 1495.4 1673.65 1497.0 1683.10C1498.6 1692.55 1502.9 1720.50 1504.2 1730.30C1505.5 1740.10 1508.8 1770.68 1509.7 1781.10C1510.6 1791.52 1512.0 1821.90 1513.3 1834.50C1514.6 1847.10 1520.8 1895.84 1522.4 1907.10C1524.0 1918.36 1528.2 1943.28 1529.7 1947.10C1531.2 1950.92 1535.5 1949.30 1536.9 1945.30C1538.4 1941.30 1542.7 1917.09 1544.2 1907.10C1545.7 1897.11 1550.4 1858.36 1551.5 1845.40C1552.6 1832.44 1554.0 1789.01 1555.1 1777.50C1556.2 1765.99 1560.5 1740.83 1562.3 1730.30C1564.1 1719.77 1571.0 1681.65 1573.2 1672.20C1575.4 1662.75 1581.9 1635.80 1584.1 1635.80C1586.3 1635.80 1593.0 1663.12 1595.0 1672.20C1597.0 1681.28 1602.5 1715.35 1604.1 1726.60C1605.7 1737.85 1610.3 1774.28 1611.4 1784.70C1612.5 1795.12 1613.5 1819.28 1615.0 1830.80C1616.5 1842.32 1623.7 1882.46 1625.9 1899.90C1628.1 1917.34 1634.8 1993.22 1636.8 2005.20C1638.8 2017.18 1644.1 2016.98 1645.9 2019.70C1647.7 2022.42 1652.8 2033.13 1655.0 2032.40C1657.2 2031.67 1665.3 2018.03 1667.7 2012.40C1670.1 2006.77 1676.6 1984.81 1678.6 1976.10C1680.6 1967.39 1685.9 1936.92 1687.7 1925.30C1689.5 1913.68 1695.1 1868.98 1696.7 1859.90C1698.3 1850.82 1702.2 1838.86 1704.0 1834.50C1705.8 1830.14 1712.4 1818.12 1714.9 1816.30C1717.4 1814.48 1727.0 1813.39 1729.4 1816.30C1731.8 1819.21 1736.7 1838.13 1738.5 1845.40C1740.3 1852.67 1746.1 1881.38 1747.6 1889.00C1749.0 1896.62 1751.5 1916.52 1753.0 1921.60C1754.5 1926.68 1760.5 1937.25 1762.1 1939.80C1763.7 1942.35 1768.1 1947.28 1769.4 1947.10C1770.7 1946.92 1772.6 1938.73 1774.8 1938.00C1777.0 1937.27 1788.5 1938.17 1791.2 1939.80C1793.9 1941.43 1800.3 1950.30 1802.1 1954.30C1803.9 1958.30 1807.1 1974.35 1809.3 1979.80C1811.5 1985.25 1821.6 2003.72 1823.8 2008.80C1826.0 2013.88 1829.5 2028.78 1831.1 2030.60C1832.7 2032.42 1838.9 2027.36 1840.2 2027.00C1841.5 2026.64 1842.7 2029.91 1844.0 2027.00C1845.3 2024.09 1851.3 2005.53 1853.1 1997.90C1854.9 1990.27 1860.4 1960.87 1862.2 1950.70C1864.0 1940.53 1869.6 1905.28 1871.2 1896.20C1872.8 1887.12 1877.0 1866.44 1878.5 1859.90C1880.0 1853.36 1884.3 1835.34 1885.8 1830.80C1887.2 1826.26 1891.4 1814.50 1893.0 1814.50C1894.6 1814.50 1899.9 1827.53 1902.1 1830.80C1904.3 1834.07 1912.8 1842.84 1914.8 1847.20C1916.8 1851.56 1920.5 1867.68 1922.1 1874.40C1923.7 1881.12 1928.8 1908.22 1931.2 1914.40C1933.6 1920.58 1943.5 1930.75 1945.7 1936.20C1947.9 1941.65 1951.2 1963.45 1953.0 1968.90C1954.8 1974.35 1962.1 1986.35 1963.9 1990.70C1965.7 1995.05 1969.5 2009.50 1971.1 2012.40C1972.7 2015.30 1978.4 2018.24 1980.2 2019.70C1982.0 2021.16 1987.7 2025.00 1989.3 2027.00C1990.9 2029.00 1994.7 2038.07 1996.5 2039.70C1998.3 2041.33 2005.4 2043.48 2007.4 2043.30C2009.4 2043.12 2014.9 2036.63 2016.5 2037.90C2018.1 2039.17 2021.3 2054.73 2023.8 2056.00C2026.3 2057.27 2039.4 2050.96 2041.9 2050.60C2044.4 2050.24 2047.6 2049.68 2049.2 2052.40C2050.8 2055.12 2056.1 2073.99 2058.3 2077.80C2060.5 2081.61 2068.8 2087.59 2071.0 2090.50C2073.2 2093.41 2077.9 2105.99 2080.1 2106.90C2082.3 2107.81 2090.6 2100.69 2092.8 2099.60C2095.0 2098.51 2099.9 2098.54 2101.9 2096.00C2103.9 2093.46 2111.0 2078.38 2112.8 2074.20C2114.6 2070.02 2118.2 2056.20 2120.0 2054.20C2121.8 2052.20 2129.1 2056.01 2130.9 2054.20C2132.7 2052.39 2136.4 2037.01 2138.2 2036.10C2140.0 2035.19 2146.9 2043.11 2149.1 2045.10C2151.3 2047.09 2157.8 2054.54 2160.0 2056.00C2162.2 2057.46 2169.1 2058.06 2170.9 2059.70C2172.7 2061.34 2176.3 2071.31 2178.1 2072.40C2179.9 2073.49 2186.1 2070.24 2189.0 2070.60C2191.9 2070.96 2204.5 2073.46 2207.2 2076.00C2209.9 2078.54 2214.7 2092.91 2216.3 2096.00C2217.9 2099.09 2221.7 2106.54 2223.5 2106.90C2225.3 2107.26 2232.0 2101.06 2234.4 2099.60C2236.8 2098.14 2244.4 2094.84 2247.1 2092.30C2249.8 2089.76 2259.0 2077.65 2261.7 2074.20C2264.4 2070.75 2272.2 2057.80 2274.4 2057.80C2276.6 2057.80 2281.3 2071.83 2283.5 2074.20C2285.7 2076.57 2293.7 2078.96 2296.2 2081.50C2298.7 2084.04 2306.2 2098.15 2308.9 2099.60C2311.6 2101.05 2320.9 2096.91 2323.4 2096.00C2325.9 2095.09 2331.8 2093.59 2334.3 2090.50C2336.8 2087.41 2346.3 2065.82 2348.8 2065.10C2351.3 2064.38 2357.5 2081.12 2359.7 2083.30C2361.9 2085.48 2368.0 2084.36 2370.6 2086.90C2373.2 2089.44 2382.1 2106.52 2385.2 2108.70C2388.3 2110.88 2399.8 2108.70 2401.5 2108.70C2403.2 2108.70 2401.9 2108.70 2402.0 2108.70"/>
<path stroke="#008080" d="M190.0 2559.70C190.2 2559.70 189.4 2559.70 191.8 2559.70C194.2 2559.70 210.5 2560.61 213.6 2559.70C216.7 2558.79 220.8 2551.51 222.6 2550.60C224.4 2549.69 230.1 2551.33 231.7 2550.60C233.3 2549.87 237.0 2544.21 239.0 2543.30C241.0 2542.39 249.7 2542.59 251.7 2541.50C253.7 2540.41 256.8 2533.60 259.0 2532.40C261.2 2531.20 271.0 2529.31 273.5 2529.50C276.0 2529.69 282.4 2532.37 284.4 2534.30C286.4 2536.23 291.3 2546.81 293.5 2548.80C295.7 2550.79 303.8 2553.84 306.2 2554.20C308.6 2554.56 315.1 2552.94 317.1 2552.40C319.1 2551.86 324.4 2548.25 326.2 2548.80C328.0 2549.35 333.2 2556.45 335.2 2557.90C337.2 2559.35 343.2 2563.48 346.1 2563.30C349.0 2563.12 361.4 2557.37 364.3 2556.10C367.2 2554.83 372.8 2550.97 375.2 2550.60C377.6 2550.23 385.4 2554.03 387.9 2552.40C390.4 2550.77 398.2 2536.66 400.6 2534.30C403.0 2531.94 409.3 2529.89 411.5 2528.80C413.7 2527.71 419.9 2523.22 422.4 2523.40C424.9 2523.58 434.2 2530.42 436.9 2530.60C439.6 2530.78 447.1 2526.83 449.6 2525.20C452.1 2523.57 459.9 2516.48 462.3 2514.30C464.7 2512.12 471.2 2504.85 473.2 2503.40C475.2 2501.95 480.5 2499.80 482.3 2499.80C484.1 2499.80 489.4 2502.50 491.4 2503.40C493.4 2504.30 499.8 2508.98 502.3 2508.80C504.8 2508.62 514.3 2503.41 516.8 2501.60C519.3 2499.79 525.5 2492.70 527.7 2490.70C529.9 2488.70 536.4 2481.78 538.6 2481.60C540.8 2481.42 547.3 2488.72 549.5 2488.90C551.7 2489.08 557.9 2484.13 560.4 2483.40C562.9 2482.67 572.0 2482.51 574.9 2481.60C577.8 2480.69 587.1 2475.03 589.5 2474.30C591.9 2473.57 596.9 2473.57 598.5 2474.30C600.1 2475.03 604.0 2481.60 605.8 2481.60C607.6 2481.60 614.5 2476.48 616.7 2474.30C618.9 2472.12 625.2 2461.98 627.6 2459.80C630.0 2457.62 637.2 2453.41 640.3 2452.50C643.4 2451.59 655.2 2452.15 658.5 2450.70C661.8 2449.25 669.7 2440.72 673.0 2438.00C676.3 2435.28 688.3 2426.40 691.2 2423.50C694.1 2420.60 699.9 2412.27 702.1 2409.00C704.3 2405.73 710.8 2394.44 713.0 2390.80C715.2 2387.16 721.8 2374.96 723.8 2372.60C725.8 2370.24 731.1 2367.20 732.9 2367.20C734.7 2367.20 740.8 2371.50 742.0 2372.60C743.2 2373.70 743.8 2375.46 745.4 2378.20C747.0 2380.94 755.4 2395.65 758.1 2400.00C760.8 2404.35 769.9 2418.98 772.6 2421.70C775.3 2424.42 783.2 2427.20 785.4 2427.20C787.6 2427.20 792.4 2424.42 794.4 2421.70C796.4 2418.98 803.5 2403.63 805.3 2400.00C807.1 2396.37 810.8 2387.22 812.6 2385.40C814.4 2383.58 821.3 2383.25 823.5 2381.80C825.7 2380.35 832.2 2374.06 834.4 2370.90C836.6 2367.74 843.1 2354.08 845.3 2350.20C847.5 2346.32 854.0 2334.82 856.2 2332.10C858.4 2329.38 864.6 2324.09 867.1 2323.00C869.6 2321.91 878.7 2320.66 881.6 2321.20C884.5 2321.74 893.7 2325.50 896.1 2328.40C898.5 2331.30 903.0 2346.02 905.2 2350.20C907.4 2354.38 914.8 2368.38 917.9 2370.20C921.0 2372.02 933.4 2367.86 936.1 2368.40C938.8 2368.94 943.4 2374.44 945.2 2375.60C947.0 2376.76 951.8 2381.09 954.2 2380.00C956.6 2378.91 965.5 2368.22 968.8 2364.70C972.1 2361.18 983.6 2346.07 986.9 2344.80C990.2 2343.53 998.4 2351.28 1001.5 2352.00C1004.6 2352.72 1015.1 2352.54 1017.8 2352.00C1020.5 2351.46 1026.5 2347.50 1028.7 2346.60C1030.9 2345.70 1036.9 2345.91 1039.6 2343.00C1042.3 2340.09 1052.8 2321.14 1055.9 2317.50C1059.0 2313.86 1068.3 2309.87 1070.5 2306.60C1072.7 2303.33 1075.5 2289.52 1077.7 2284.80C1079.9 2280.08 1089.9 2263.03 1092.3 2259.40C1094.7 2255.77 1099.5 2248.86 1101.3 2248.50C1103.1 2248.14 1108.2 2252.89 1110.4 2255.80C1112.6 2258.71 1120.6 2273.61 1123.1 2277.60C1125.6 2281.59 1133.1 2292.25 1135.8 2295.70C1138.5 2299.15 1148.0 2309.92 1150.4 2312.10C1152.8 2314.28 1157.4 2317.50 1159.4 2317.50C1161.4 2317.50 1167.9 2314.28 1170.3 2312.10C1172.7 2309.92 1179.6 2299.88 1183.1 2295.70C1186.5 2291.52 1200.8 2276.11 1204.8 2270.30C1208.8 2264.49 1219.4 2241.59 1223.0 2237.60C1226.6 2233.61 1237.9 2231.67 1241.2 2230.40C1244.5 2229.13 1253.0 2225.27 1255.7 2224.90C1258.4 2224.53 1265.9 2225.61 1268.4 2226.70C1270.9 2227.79 1279.7 2234.53 1281.1 2235.80C1282.5 2237.07 1281.1 2238.31 1282.7 2239.40C1284.3 2240.49 1294.7 2245.97 1297.2 2246.70C1299.7 2247.43 1306.1 2245.61 1308.1 2246.70C1310.1 2247.79 1315.2 2256.51 1317.2 2257.60C1319.2 2258.69 1326.1 2258.51 1328.1 2257.60C1330.1 2256.69 1334.8 2249.59 1337.2 2248.50C1339.6 2247.41 1348.6 2247.06 1351.7 2246.70C1354.8 2246.34 1365.3 2246.72 1368.0 2244.90C1370.7 2243.08 1376.7 2232.31 1378.9 2228.50C1381.1 2224.69 1387.4 2209.16 1389.8 2206.80C1392.2 2204.44 1399.8 2205.09 1402.5 2204.90C1405.2 2204.71 1414.5 2203.99 1417.1 2204.90C1419.6 2205.81 1425.6 2211.82 1428.0 2214.00C1430.4 2216.18 1438.2 2224.70 1440.7 2226.70C1443.2 2228.70 1450.9 2233.63 1453.4 2234.00C1455.9 2234.37 1463.9 2231.67 1466.1 2230.40C1468.3 2229.13 1473.2 2221.49 1475.2 2221.30C1477.2 2221.11 1483.7 2227.41 1486.1 2228.50C1488.5 2229.59 1496.6 2229.11 1498.8 2232.20C1501.0 2235.29 1505.9 2254.86 1507.9 2259.40C1509.9 2263.94 1516.8 2275.24 1518.8 2277.60C1520.8 2279.96 1526.0 2283.18 1527.8 2283.00C1529.6 2282.82 1534.5 2279.43 1536.9 2275.80C1539.3 2272.17 1549.0 2250.70 1551.5 2246.70C1554.0 2242.70 1560.1 2237.98 1562.3 2235.80C1564.5 2233.62 1571.2 2227.44 1573.2 2224.90C1575.2 2222.36 1580.5 2211.85 1582.3 2210.40C1584.1 2208.95 1589.4 2208.40 1591.4 2210.40C1593.4 2212.40 1600.1 2226.22 1602.3 2230.40C1604.5 2234.58 1611.4 2249.66 1613.2 2252.20C1615.0 2254.74 1618.3 2256.71 1620.5 2255.80C1622.7 2254.89 1632.5 2245.10 1635.0 2243.10C1637.5 2241.10 1643.7 2237.07 1645.9 2235.80C1648.1 2234.53 1654.3 2230.04 1656.8 2230.40C1659.3 2230.76 1668.0 2238.31 1671.3 2239.40C1674.6 2240.49 1686.6 2242.75 1689.5 2241.30C1692.4 2239.85 1698.2 2227.81 1700.4 2224.90C1702.6 2221.99 1709.1 2216.74 1711.3 2212.20C1713.5 2207.66 1719.3 2184.58 1722.2 2179.50C1725.1 2174.42 1737.4 2165.76 1740.3 2161.40C1743.2 2157.04 1749.0 2140.26 1751.2 2135.90C1753.4 2131.54 1760.3 2122.52 1762.1 2117.80C1763.9 2113.08 1767.8 2094.15 1769.4 2088.70C1771.0 2083.25 1776.0 2067.29 1778.5 2063.30C1781.0 2059.31 1792.1 2051.16 1794.8 2048.80C1797.5 2046.44 1803.5 2040.25 1805.7 2039.70C1807.9 2039.15 1814.4 2041.67 1816.6 2043.30C1818.8 2044.93 1825.3 2052.55 1827.5 2056.00C1829.7 2059.45 1836.8 2074.53 1838.4 2077.80C1840.1 2081.07 1842.3 2087.06 1844.0 2088.70C1845.7 2090.34 1852.5 2094.02 1854.9 2094.20C1857.3 2094.38 1865.1 2091.59 1867.6 2090.50C1870.1 2089.41 1877.8 2084.02 1880.3 2083.30C1882.8 2082.58 1890.6 2082.58 1893.0 2083.30C1895.4 2084.02 1901.7 2089.23 1903.9 2090.50C1906.1 2091.77 1912.8 2094.73 1914.8 2096.00C1916.8 2097.27 1921.9 2103.20 1923.9 2103.20C1925.9 2103.20 1932.8 2096.90 1934.8 2096.00C1936.8 2095.10 1941.7 2093.29 1943.9 2094.20C1946.1 2095.11 1954.2 2101.65 1956.6 2105.10C1959.0 2108.55 1965.1 2124.16 1967.5 2128.70C1969.9 2133.24 1977.7 2146.14 1980.2 2150.50C1982.7 2154.86 1990.2 2167.22 1992.9 2172.30C1995.6 2177.38 2005.0 2195.13 2007.4 2201.30C2009.8 2207.47 2014.7 2228.19 2016.5 2234.00C2018.3 2239.81 2023.6 2253.95 2025.6 2259.40C2027.6 2264.85 2034.3 2282.32 2036.5 2288.50C2038.7 2294.68 2045.2 2315.75 2047.4 2321.20C2049.6 2326.65 2055.9 2339.19 2058.3 2343.00C2060.7 2346.81 2069.4 2356.33 2071.0 2359.30C2072.6 2362.27 2073.0 2370.27 2074.6 2372.70C2076.2 2375.13 2084.6 2382.15 2087.3 2383.60C2090.0 2385.05 2099.2 2385.93 2101.9 2387.20C2104.6 2388.47 2112.4 2393.94 2114.6 2396.30C2116.8 2398.66 2121.9 2408.26 2123.7 2410.80C2125.5 2413.34 2130.2 2419.52 2132.7 2421.70C2135.2 2423.88 2146.2 2431.14 2149.1 2432.60C2152.0 2434.06 2159.4 2435.75 2161.8 2436.30C2164.2 2436.85 2171.1 2436.83 2172.7 2438.10C2174.3 2439.37 2176.3 2446.46 2178.1 2449.00C2179.9 2451.54 2188.5 2462.05 2190.9 2463.50C2193.3 2464.95 2199.3 2465.13 2201.7 2463.50C2204.1 2461.87 2212.1 2448.29 2214.5 2447.20C2216.9 2446.11 2223.2 2451.70 2225.4 2452.60C2227.6 2453.50 2234.1 2454.38 2236.3 2456.20C2238.5 2458.02 2244.7 2468.25 2247.1 2470.80C2249.5 2473.35 2257.3 2480.43 2259.9 2481.70C2262.5 2482.97 2269.9 2483.32 2272.6 2483.50C2275.3 2483.68 2284.7 2482.23 2287.1 2483.50C2289.5 2484.77 2294.4 2493.84 2296.2 2496.20C2298.0 2498.56 2302.9 2505.10 2305.3 2507.10C2307.7 2509.10 2317.1 2515.11 2319.8 2516.20C2322.5 2517.29 2330.0 2518.37 2332.5 2518.00C2335.0 2517.63 2342.8 2512.32 2345.2 2512.50C2347.6 2512.68 2353.9 2518.52 2356.1 2519.80C2358.3 2521.08 2365.0 2524.75 2367.0 2525.30C2369.0 2525.85 2374.3 2524.40 2376.1 2525.30C2377.9 2526.20 2382.7 2532.49 2385.2 2534.30C2387.7 2536.11 2399.8 2542.49 2401.5 2543.40C2403.2 2544.31 2401.9 2543.40 2402.0 2543.40"/>
<path stroke="#ED7D31" d="M190.0 2881.40C190.2 2881.40 190.9 2879.77 191.8 2881.40C192.7 2883.03 197.0 2894.98 199.0 2897.70C201.0 2900.42 209.3 2908.78 211.7 2908.60C214.1 2908.42 220.2 2897.35 222.6 2895.90C225.0 2894.45 233.2 2896.64 235.4 2894.10C237.6 2891.56 242.4 2874.86 244.4 2870.50C246.4 2866.14 253.7 2853.05 255.3 2850.50C256.9 2847.95 259.5 2844.64 260.8 2845.00C262.1 2845.36 266.4 2853.37 268.0 2854.10C269.6 2854.83 275.6 2850.12 277.1 2852.30C278.6 2854.48 280.8 2872.81 282.6 2875.90C284.4 2878.99 293.1 2881.38 295.3 2883.20C297.5 2885.02 302.2 2892.83 304.4 2894.10C306.6 2895.37 314.7 2897.72 317.1 2895.90C319.5 2894.08 325.8 2878.63 328.0 2875.90C330.2 2873.17 336.9 2870.42 338.9 2868.60C340.9 2866.78 346.3 2859.51 347.9 2857.70C349.5 2855.89 353.6 2849.59 355.2 2850.50C356.8 2851.41 362.1 2864.44 364.3 2866.80C366.5 2869.16 374.8 2872.10 377.0 2874.10C379.2 2876.10 383.4 2885.35 386.1 2886.80C388.8 2888.25 401.7 2887.33 404.2 2888.60C406.7 2889.87 409.7 2897.50 411.5 2899.50C413.3 2901.50 420.8 2908.24 422.4 2908.60C424.0 2908.96 426.5 2906.55 427.8 2903.10C429.1 2899.65 433.1 2877.36 435.1 2874.10C437.1 2870.84 445.4 2870.32 447.8 2870.50C450.2 2870.68 456.5 2876.63 458.7 2875.90C460.9 2875.17 467.4 2864.65 469.6 2863.20C471.8 2861.75 478.3 2861.04 480.5 2861.40C482.7 2861.76 489.0 2866.80 491.4 2866.80C493.8 2866.80 501.9 2863.39 504.1 2861.40C506.3 2859.41 511.6 2848.90 513.2 2846.90C514.8 2844.90 518.7 2841.59 520.5 2841.40C522.3 2841.21 529.4 2843.37 531.4 2845.00C533.4 2846.63 538.8 2854.43 540.4 2857.70C542.0 2860.97 545.7 2874.61 547.7 2877.70C549.7 2880.79 557.9 2886.06 560.4 2888.60C562.9 2891.14 571.1 2902.92 573.1 2903.10C575.1 2903.28 578.4 2891.85 580.4 2890.40C582.4 2888.95 590.9 2886.96 593.1 2888.60C595.3 2890.24 600.2 2905.71 602.2 2906.80C604.2 2907.89 610.9 2899.68 613.1 2899.50C615.3 2899.32 622.0 2903.00 624.0 2905.00C626.0 2907.00 631.5 2920.05 633.1 2919.50C634.7 2918.95 638.3 2902.95 640.3 2899.50C642.3 2896.05 650.8 2888.27 653.0 2885.00C655.2 2881.73 660.5 2871.52 662.1 2866.80C663.7 2862.08 667.9 2841.07 669.4 2837.80C670.9 2834.53 675.0 2833.92 676.6 2834.10C678.2 2834.28 683.9 2840.69 685.7 2839.60C687.5 2838.51 693.4 2824.67 694.8 2823.20C696.2 2821.73 698.4 2821.46 700.0 2824.90C701.6 2828.34 708.7 2852.88 710.9 2857.60C713.1 2862.32 719.3 2869.20 721.8 2872.10C724.3 2875.00 733.9 2883.69 736.3 2886.60C738.7 2889.51 743.2 2899.20 745.4 2901.20C747.6 2903.20 755.4 2905.33 758.1 2906.60C760.8 2907.87 769.9 2913.54 772.6 2913.90C775.3 2914.26 783.4 2912.20 785.4 2910.20C787.4 2908.20 790.6 2896.26 792.6 2893.90C794.6 2891.54 802.8 2889.69 805.3 2886.60C807.8 2883.51 815.5 2865.72 818.0 2863.00C820.5 2860.28 828.6 2861.39 830.8 2859.40C833.0 2857.41 838.2 2845.82 839.8 2843.10C841.4 2840.38 845.1 2833.48 847.1 2832.20C849.1 2830.92 857.6 2831.94 859.8 2830.30C862.0 2828.66 866.9 2817.25 868.9 2815.80C870.9 2814.35 877.8 2814.16 879.8 2815.80C881.8 2817.44 886.9 2831.11 888.9 2832.20C890.9 2833.29 897.8 2825.98 899.8 2826.70C901.8 2827.42 906.8 2837.58 908.8 2839.40C910.8 2841.22 917.3 2845.26 919.7 2844.90C922.1 2844.54 930.4 2835.80 932.4 2835.80C934.4 2835.80 938.1 2846.72 939.7 2844.90C941.3 2843.08 947.0 2820.51 948.8 2817.60C950.6 2814.69 955.9 2818.34 957.9 2815.80C959.9 2813.26 967.0 2796.38 968.8 2792.20C970.6 2788.02 974.2 2776.91 976.0 2774.00C977.8 2771.09 983.6 2764.37 986.9 2763.10C990.2 2761.83 1005.4 2760.57 1008.7 2761.30C1012.0 2762.03 1017.1 2769.31 1019.6 2770.40C1022.1 2771.49 1031.9 2770.20 1034.1 2772.20C1036.3 2774.20 1039.9 2790.22 1041.4 2790.40C1042.9 2790.58 1047.2 2778.00 1048.7 2774.00C1050.2 2770.00 1054.1 2752.76 1055.9 2750.40C1057.7 2748.04 1065.0 2751.67 1066.8 2750.40C1068.6 2749.13 1072.3 2739.51 1074.1 2737.70C1075.9 2735.89 1083.0 2731.93 1085.0 2732.30C1087.0 2732.67 1092.5 2740.49 1094.1 2741.40C1095.7 2742.31 1099.8 2739.77 1101.3 2741.40C1102.8 2743.03 1106.4 2753.89 1108.6 2757.70C1110.8 2761.51 1120.7 2779.14 1123.1 2779.50C1125.5 2779.86 1130.4 2764.39 1132.2 2761.30C1134.0 2758.21 1139.3 2749.69 1141.3 2748.60C1143.3 2747.51 1150.0 2751.31 1152.2 2750.40C1154.4 2749.49 1161.1 2741.68 1163.1 2739.50C1165.1 2737.32 1169.8 2730.05 1172.2 2728.60C1174.6 2727.15 1184.0 2726.27 1186.7 2725.00C1189.4 2723.73 1197.2 2719.71 1199.4 2715.90C1201.6 2712.09 1206.5 2691.44 1208.5 2686.90C1210.5 2682.36 1217.2 2674.50 1219.4 2670.50C1221.6 2666.50 1228.1 2650.71 1230.3 2646.90C1232.5 2643.09 1239.2 2635.12 1241.2 2632.40C1243.2 2629.68 1248.4 2621.15 1250.0 2619.70C1251.6 2618.25 1255.7 2615.54 1257.3 2617.90C1258.9 2620.26 1264.3 2637.13 1266.3 2643.30C1268.3 2649.47 1275.0 2672.70 1277.2 2679.60C1279.4 2686.50 1285.9 2706.85 1288.1 2712.30C1290.3 2717.75 1296.5 2730.10 1299.0 2734.10C1301.5 2738.10 1310.7 2750.67 1313.6 2752.30C1316.5 2753.93 1325.4 2751.49 1328.1 2750.40C1330.8 2749.31 1338.3 2743.94 1340.8 2741.40C1343.3 2738.86 1351.7 2728.09 1353.5 2725.00C1355.3 2721.91 1357.7 2710.86 1359.0 2710.50C1360.3 2710.14 1364.8 2720.49 1366.2 2721.40C1367.7 2722.31 1372.0 2721.24 1373.5 2719.60C1375.0 2717.96 1378.6 2706.46 1380.8 2705.00C1383.0 2703.54 1392.9 2706.45 1395.3 2705.00C1397.7 2703.55 1402.6 2691.59 1404.4 2690.50C1406.2 2689.41 1411.6 2693.92 1413.4 2694.10C1415.2 2694.28 1421.0 2693.57 1422.5 2692.30C1424.0 2691.03 1426.5 2682.49 1428.0 2681.40C1429.5 2680.31 1435.4 2679.76 1437.0 2681.40C1438.6 2683.04 1442.7 2693.26 1444.3 2697.80C1445.9 2702.34 1451.4 2722.81 1453.4 2726.80C1455.4 2730.79 1462.5 2736.97 1464.3 2737.70C1466.1 2738.43 1470.2 2735.91 1471.5 2734.10C1472.8 2732.29 1475.4 2721.42 1477.0 2719.60C1478.6 2717.78 1486.1 2716.09 1487.9 2715.90C1489.7 2715.71 1493.6 2718.79 1495.2 2717.70C1496.8 2716.61 1502.6 2707.72 1504.2 2705.00C1505.8 2702.28 1509.7 2691.40 1511.5 2690.50C1513.3 2689.60 1520.6 2695.45 1522.4 2696.00C1524.2 2696.55 1528.1 2694.91 1529.7 2696.00C1531.3 2697.09 1537.1 2706.90 1538.7 2706.90C1540.3 2706.90 1544.5 2697.09 1546.0 2696.00C1547.5 2694.91 1551.7 2695.10 1553.3 2696.00C1554.9 2696.90 1560.3 2702.64 1562.3 2705.00C1564.3 2707.36 1571.2 2718.51 1573.2 2719.60C1575.2 2720.69 1580.7 2717.17 1582.3 2715.90C1583.9 2714.63 1587.8 2705.81 1589.6 2706.90C1591.4 2707.99 1598.5 2724.81 1600.5 2726.80C1602.5 2728.79 1608.0 2727.89 1609.6 2726.80C1611.2 2725.71 1615.0 2717.53 1616.8 2715.90C1618.6 2714.27 1625.5 2711.04 1627.7 2710.50C1629.9 2709.96 1636.8 2708.87 1638.6 2710.50C1640.4 2712.13 1644.3 2724.80 1645.9 2726.80C1647.5 2728.80 1653.2 2731.95 1655.0 2730.50C1656.8 2729.05 1662.4 2714.85 1664.0 2712.30C1665.6 2709.75 1669.7 2706.09 1671.3 2705.00C1672.9 2703.91 1678.8 2703.58 1680.4 2701.40C1682.0 2699.22 1686.2 2686.83 1687.7 2683.20C1689.2 2679.57 1693.5 2667.46 1694.9 2665.10C1696.4 2662.74 1700.8 2660.15 1702.2 2659.60C1703.7 2659.05 1707.8 2658.69 1709.4 2659.60C1711.0 2660.51 1716.9 2669.60 1718.5 2668.70C1720.1 2667.80 1724.2 2652.96 1725.8 2650.60C1727.4 2648.24 1733.5 2648.37 1734.9 2645.10C1736.4 2641.83 1738.7 2622.80 1740.3 2617.90C1741.9 2613.00 1749.4 2600.46 1751.2 2596.10C1753.0 2591.74 1757.2 2579.75 1758.5 2574.30C1759.8 2568.85 1762.8 2548.14 1763.9 2541.60C1765.0 2535.06 1768.1 2515.07 1769.4 2508.90C1770.7 2502.73 1775.3 2486.44 1776.6 2479.90C1777.9 2473.36 1781.0 2448.59 1782.1 2443.50C1783.2 2438.41 1786.2 2432.27 1787.5 2429.00C1788.8 2425.73 1793.2 2413.70 1794.8 2410.80C1796.4 2407.90 1801.9 2403.45 1803.9 2400.00C1805.9 2396.55 1813.0 2378.12 1814.8 2376.30C1816.6 2374.48 1820.4 2379.80 1822.0 2381.80C1823.6 2383.80 1829.5 2392.74 1831.1 2396.30C1832.7 2399.86 1837.1 2413.95 1838.4 2417.40C1839.7 2420.85 1842.7 2426.37 1844.0 2430.80C1845.3 2435.23 1850.0 2456.25 1851.3 2461.70C1852.6 2467.15 1855.4 2482.21 1856.7 2485.30C1858.0 2488.39 1862.4 2488.79 1864.0 2492.60C1865.6 2496.41 1871.5 2518.14 1873.1 2523.40C1874.7 2528.66 1878.8 2542.11 1880.3 2545.20C1881.8 2548.29 1886.1 2554.30 1887.6 2554.30C1889.0 2554.30 1893.3 2549.01 1894.8 2545.20C1896.2 2541.39 1900.6 2521.28 1902.1 2516.20C1903.6 2511.12 1908.0 2500.58 1909.4 2494.40C1910.9 2488.22 1915.3 2460.76 1916.6 2454.40C1917.9 2448.04 1920.5 2435.16 1922.1 2430.80C1923.7 2426.44 1931.2 2415.16 1933.0 2410.80C1934.8 2406.44 1938.8 2390.10 1940.2 2387.20C1941.7 2384.30 1945.7 2381.07 1947.5 2381.80C1949.3 2382.53 1956.8 2390.51 1958.4 2394.50C1960.0 2398.49 1962.6 2415.71 1963.9 2421.70C1965.2 2427.69 1969.3 2447.86 1971.1 2454.40C1972.9 2460.94 1980.4 2480.56 1982.0 2487.10C1983.6 2493.64 1985.9 2515.08 1987.5 2519.80C1989.1 2524.52 1996.6 2531.03 1998.4 2534.30C2000.2 2537.57 2004.1 2550.14 2005.6 2552.50C2007.0 2554.86 2011.3 2558.81 2012.9 2557.90C2014.5 2556.99 2020.5 2544.49 2022.0 2543.40C2023.5 2542.31 2026.1 2545.00 2027.4 2547.00C2028.7 2549.00 2033.4 2560.85 2034.7 2563.40C2036.0 2565.95 2039.0 2568.87 2040.1 2572.50C2041.2 2576.13 2044.5 2595.16 2045.6 2599.70C2046.7 2604.24 2049.9 2612.45 2051.0 2617.90C2052.1 2623.35 2055.4 2649.12 2056.5 2654.20C2057.6 2659.28 2060.5 2661.44 2061.9 2668.70C2063.3 2675.96 2069.7 2719.72 2071.0 2726.80C2072.3 2733.88 2073.3 2737.86 2074.6 2739.50C2075.9 2741.14 2082.2 2741.20 2083.7 2743.20C2085.2 2745.20 2087.4 2757.32 2089.2 2759.50C2091.0 2761.68 2099.7 2764.64 2101.9 2765.00C2104.1 2765.36 2109.5 2761.65 2110.9 2763.10C2112.3 2764.55 2114.0 2777.86 2116.4 2779.50C2118.8 2781.14 2132.1 2779.14 2134.6 2779.50C2137.1 2779.86 2140.2 2783.83 2141.8 2783.10C2143.4 2782.37 2148.7 2773.29 2150.9 2772.20C2153.1 2771.11 2161.4 2771.29 2163.6 2772.20C2165.8 2773.11 2171.1 2780.57 2172.7 2781.30C2174.3 2782.03 2178.4 2778.41 2180.0 2779.50C2181.6 2780.59 2187.6 2791.11 2189.0 2792.20C2190.4 2793.29 2193.2 2789.31 2194.5 2790.40C2195.8 2791.49 2199.7 2802.01 2201.7 2803.10C2203.7 2804.19 2212.1 2802.57 2214.5 2801.30C2216.9 2800.03 2223.6 2792.58 2225.4 2790.40C2227.2 2788.22 2231.0 2779.50 2232.6 2779.50C2234.2 2779.50 2240.1 2788.04 2241.7 2790.40C2243.3 2792.76 2246.8 2801.47 2249.0 2803.10C2251.2 2804.73 2261.1 2805.25 2263.5 2806.70C2265.9 2808.15 2271.0 2816.87 2272.6 2817.60C2274.2 2818.33 2278.2 2813.45 2279.8 2814.00C2281.4 2814.55 2287.3 2822.19 2288.9 2823.10C2290.5 2824.01 2294.6 2822.01 2296.2 2823.10C2297.8 2824.19 2303.3 2833.82 2305.3 2834.00C2307.3 2834.18 2313.1 2826.17 2316.2 2824.90C2319.3 2823.63 2332.8 2823.30 2336.1 2821.30C2339.4 2819.30 2346.6 2806.90 2348.8 2804.90C2351.0 2802.90 2356.3 2802.93 2357.9 2801.30C2359.5 2799.67 2363.6 2788.60 2365.2 2788.60C2366.8 2788.60 2372.5 2797.85 2374.3 2801.30C2376.1 2804.75 2380.6 2821.29 2383.3 2823.10C2386.0 2824.91 2399.6 2819.77 2401.5 2819.40C2403.4 2819.03 2401.9 2819.40 2402.0 2819.40"/>
</g>
<g>
<text transform="translate(1428.1 2610.3) rotate(-90) scale(1 1.056)" font-size="72.9">1465</text>
</g>
<g>
<rect x="1384.0" y="1596.6" width="44.0" height="710.8" fill="rgba(128,128,255,0.4)"/>
<rect x="656.7" y="528.9" width="47.2" height="450.6" fill="rgba(191,144,0,0.4)"/>
<rect x="1034.5" y="458.8" width="57.0" height="558.9" fill="rgba(191,144,0,0.4)"/>
<rect x="1361.9" y="458.8" width="47.2" height="451.0" fill="rgba(191,144,0,0.4)"/>
<rect x="1781.4" y="183.5" width="46.8" height="605.4" fill="rgba(191,144,0,0.4)"/>
<rect x="1876.3" y="100.0" width="47.6" height="742.3" fill="rgba(191,144,0,0.4)"/>
<rect x="1987.2" y="166.8" width="47.8" height="745.6" fill="rgba(191,144,0,0.4)"/>
<rect x="1222.3" y="2197.0" width="43.9" height="472.4" fill="rgba(191,144,0,0.4)"/>
<rect x="1377.8" y="2266.7" width="53.4" height="463.0" fill="rgba(191,144,0,0.4)"/>
<rect x="1777.7" y="2005.9" width="60.0" height="450.3" fill="rgba(191,144,0,0.4)"/>
<rect x="1943.2" y="1996.8" width="43.9" height="504.8" fill="rgba(191,144,0,0.4)"/>
<rect x="567.7" y="932.5" width="57.0" height="622.0" fill="rgba(128,128,255,0.4)"/>
<rect x="685.0" y="849.7" width="60.5" height="720.8" fill="rgba(128,128,255,0.4)"/>
<rect x="831.5" y="871.7" width="50.5" height="552.8" fill="rgba(128,128,255,0.4)"/>
<rect x="1079.2" y="681.7" width="47.2" height="748.6" fill="rgba(128,128,255,0.4)"/>
<rect x="1247.3" y="618.2" width="44.7" height="768.1" fill="rgba(128,128,255,0.4)"/>
<rect x="1444.3" y="779.8" width="47.6" height="504.8" fill="rgba(128,128,255,0.4)"/>
<rect x="1558.7" y="722.8" width="44.3" height="523.7" fill="rgba(128,128,255,0.4)"/>
<rect x="1730.1" y="468.6" width="60.3" height="901.4" fill="rgba(128,128,255,0.4)"/>
<rect x="1879.2" y="564.1" width="44.7" height="853.8" fill="rgba(128,128,255,0.4)"/>
<rect x="1984.9" y="605.1" width="56.3" height="835.0" fill="rgba(128,128,255,0.4)"/>
<rect x="708.0" y="1703.0" width="50.1" height="776.1" fill="rgba(128,128,255,0.4)"/>
<rect x="853.6" y="1595.9" width="63.6" height="826.2" fill="rgba(128,128,255,0.4)"/>
<rect x="1073.4" y="1758.2" width="46.8" height="676.3" fill="rgba(128,128,255,0.4)"/>
<rect x="1447.6" y="1583.9" width="57.0" height="726.7" fill="rgba(128,128,255,0.4)"/>
<rect x="1558.7" y="1643.8" width="47.2" height="638.5" fill="rgba(128,128,255,0.4)"/>
<rect x="1701.5" y="1755.7" width="47.2" height="504.1" fill="rgba(128,128,255,0.4)"/>
<rect x="1777.7" y="1891.9" width="47.3" height="206.3" fill="rgba(128,128,255,0.4)"/>
<rect x="1867.6" y="1766.6" width="46.1" height="340.3" fill="rgba(128,128,255,0.4)"/>
</g>
<g>
<rect x="186.5" y="46" width="2223.5" height="9.3" fill="#808080"/>
<rect x="186.5" y="55.3" width="2213.6" height="6.4" fill="#000"/>
<rect x="2400.1" y="49" width="9.9" height="2974" fill="#808080"/>
<rect x="186.5" y="55.3" width="9.5" height="2967.7" fill="#000"/>
<rect x="186.5" y="46" width="3.5" height="6" fill="#c4c4c4"/>
<rect x="186.5" y="52" width="3.5" height="3.3" fill="#2a2a2a"/>
<rect x="2406.5" y="46" width="3.5" height="3" fill="#c4c4c4"/>
<rect x="2406.5" y="3016.4" width="3.5" height="3.6" fill="#3a3a3a"/>
<rect x="186.5" y="3013.1" width="2213.6" height="3.4" fill="#000"/>
<rect x="189.5" y="3016.4" width="2220.5" height="3.6" fill="#808080"/>
<rect x="186.5" y="3019.9" width="2223.5" height="3.1" fill="#000"/>
<rect x="532.7" y="3016.4" width="3.2" height="25.7" fill="#808080"/>
<rect x="873.1" y="3016.4" width="3.2" height="25.7" fill="#808080"/>
<rect x="1213.5" y="3016.4" width="3.2" height="25.7" fill="#808080"/>
<rect x="1553.9" y="3016.4" width="3.2" height="25.7" fill="#808080"/>
<rect x="1894.3" y="3016.4" width="3.2" height="25.7" fill="#808080"/>
<rect x="2234.7" y="3016.4" width="3.2" height="25.7" fill="#808080"/>
</g>
<text transform="translate(528.3 3120.3) scale(0.983 1)" font-size="80.5">1200</text>
<text transform="translate(869.4 3120.3) scale(0.983 1)" font-size="80.5">1300</text>
<text transform="translate(1210.5 3120.3) scale(0.983 1)" font-size="80.5">1400</text>
<text transform="translate(1551.5 3120.3) scale(0.983 1)" font-size="80.5">1500</text>
<text transform="translate(1892.6 3120.3) scale(0.983 1)" font-size="80.5">1600</text>
<text transform="translate(2233.7 3120.3) scale(0.983 1)" font-size="80.5">1700</text>
<text transform="translate(236.8 554.4) scale(1.048 1)" font-size="92.4">(a)</text>
<text transform="translate(236.8 1139.0) scale(1.048 1)" font-size="92.4">(b)</text>
<text transform="translate(244.1 1520.8) scale(1.048 1)" font-size="92.4">(c)</text>
<text transform="translate(237.9 2026.4) scale(1.048 1)" font-size="92.4">(d)</text>
<text transform="translate(237.9 2457.4) scale(1.048 1)" font-size="92.4">(e)</text>
<text transform="translate(244.1 2787.9) scale(1.048 1)" font-size="92.4">(f)</text>
<text transform="translate(701.4 501.2) rotate(-90) scale(1 1.056)" font-size="72.9">1247</text>
<text transform="translate(1088.6 455.9) rotate(-90) scale(1 1.056)" font-size="72.9">1358</text>
<text transform="translate(1416.0 441.0) rotate(-90) scale(1 1.056)" font-size="72.9">1456</text>
<text transform="translate(1831.8 234.9) rotate(-90) scale(1 1.056)" font-size="72.9">1572</text>
<text transform="translate(1917.4 326.0) rotate(-90) scale(1 1.056)" font-size="72.9">1602</text>
<text transform="translate(2038.2 233.6) rotate(-90) scale(1 1.056)" font-size="72.9">1632</text>
<text transform="translate(612.9 1434.4) rotate(-90) scale(1 1.056)" font-size="72.9">1221</text>
<text transform="translate(739.1 1390.6) rotate(-90) scale(1 1.056)" font-size="72.9">1255</text>
<text transform="translate(876.0 1305.5) rotate(-90) scale(1 1.056)" font-size="72.9">1299</text>
<text transform="translate(1136.5 1283.7) rotate(-90) scale(1 1.056)" font-size="72.9">1370</text>
<text transform="translate(1298.2 1320.1) rotate(-90) scale(1 1.056)" font-size="72.9">1418</text>
<text transform="translate(1485.9 1060.0) rotate(-90) scale(1 1.056)" font-size="72.9">1470</text>
<text transform="translate(1609.4 1040.0) rotate(-90) scale(1 1.056)" font-size="72.9">1510</text>
<text transform="translate(1791.0 1251.1) rotate(-90) scale(1 1.056)" font-size="72.9">1560</text>
<text transform="translate(1933.7 1272.9) rotate(-90) scale(1 1.056)" font-size="72.9">1604</text>
<text transform="translate(2039.0 1294.6) rotate(-90) scale(1 1.056)" font-size="72.9">1632</text>
<text transform="translate(757.9 1810.2) rotate(-90) scale(1 1.056)" font-size="72.9">1258</text>
<text transform="translate(917.3 1705.4) rotate(-90) scale(1 1.056)" font-size="72.9">1306</text>
<text transform="translate(1121.1 1789.3) rotate(-90) scale(1 1.056)" font-size="72.9">1366</text>
<text transform="translate(1197.0 1864.7) rotate(-90) scale(1 1.056)" font-size="72.9">1388</text>
<text transform="translate(1353.0 1739.9) rotate(-90) scale(1 1.056)" font-size="72.9">1435</text>
<text transform="translate(1441.4 1562.9) rotate(-90) scale(1 1.056)" font-size="72.9">1460</text>
<text transform="translate(1505.0 1571.0) rotate(-90) scale(1 1.056)" font-size="72.9">1477</text>
<text transform="translate(1603.3 1584.6) rotate(-90) scale(1 1.056)" font-size="72.9">1507</text>
<text transform="translate(1749.2 1800.2) rotate(-90) scale(1 1.056)" font-size="72.9">1550</text>
<text transform="translate(1828.2 1863.8) rotate(-90) scale(1 1.056)" font-size="72.9">1567</text>
<text transform="translate(1920.8 1803.8) rotate(-90) scale(1 1.056)" font-size="72.9">1599</text>
<text transform="translate(1835.5 2334.8) rotate(-90) scale(1 1.056)" font-size="72.9">1576</text>
<text transform="translate(1984.1 2316.3) rotate(-90) scale(1 1.056)" font-size="72.9">1615</text>
<text transform="translate(1280.3 2587.6) rotate(-90) scale(1 1.056)" font-size="72.9">1412</text>
<text transform="translate(106.7 1633.0) rotate(-90)" font-size="92.6">Inten<tspan dx="5.5">sity</tspan><tspan dx="-2.5"> (a.u.</tspan><tspan dx="-1.5">)</tspan></text>
<text x="985.9" y="3244.8" font-size="93">Raman shift (cm<tspan font-size="62" dy="-28.5">–1</tspan><tspan dy="28.5" dx="6">)</tspan></text>
</svg></body></html>
